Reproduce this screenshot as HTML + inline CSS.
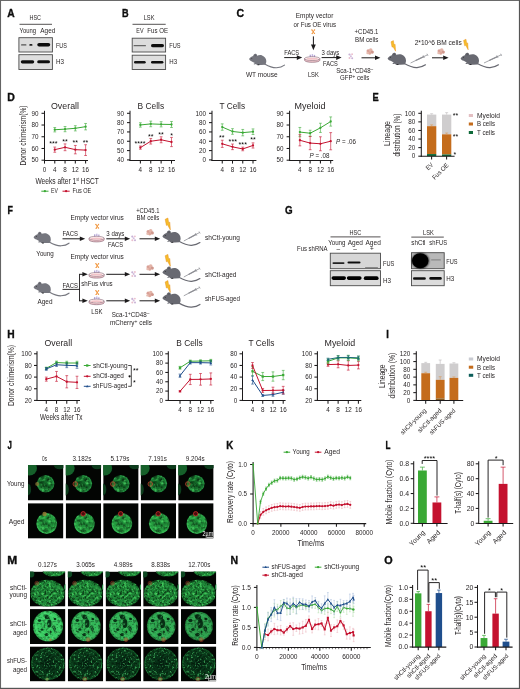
<!DOCTYPE html>
<html lang="en"><head><meta charset="utf-8"><title>Figure</title>
<style>
html,body{margin:0;padding:0;background:#fff;}
body{width:520px;height:689px;overflow:hidden;}
svg.fig{display:block;font-family:"Liberation Sans",sans-serif;}
</style></head><body>
<svg class="fig" width="520" height="689" viewBox="0 0 520 689">
<defs>
<filter id="bl" x="-20%" y="-50%" width="140%" height="200%"><feGaussianBlur stdDeviation="0.55"/></filter>
<filter id="bl2" x="-20%" y="-50%" width="140%" height="200%"><feGaussianBlur stdDeviation="0.9"/></filter>
<filter id="txA" x="-5%" y="-5%" width="110%" height="110%" color-interpolation-filters="sRGB">
<feTurbulence type="fractalNoise" baseFrequency="0.3" numOctaves="2" seed="4" result="n"/>
<feColorMatrix in="n" type="matrix" values="0 0 0 0 0.01  0 0 0 0 0.07  0 0 0 0 0.02  1.7 0 0 0 -0.72" result="d"/>
<feColorMatrix in="n" type="matrix" values="0 0 0 0 0.3  0 0 0 0 0.85  0 0 0 0 0.4  0 2 0 0 -1" result="l"/>
<feComposite in="d" in2="SourceGraphic" operator="atop" result="c1"/>
<feComposite in="l" in2="c1" operator="atop" result="c2"/>
<feGaussianBlur in="c2" stdDeviation="0.7"/>
</filter>
<filter id="txB" x="-5%" y="-5%" width="110%" height="110%" color-interpolation-filters="sRGB">
<feTurbulence type="fractalNoise" baseFrequency="0.42" numOctaves="2" seed="11" result="n"/>
<feColorMatrix in="n" type="matrix" values="0 0 0 0 0.01  0 0 0 0 0.07  0 0 0 0 0.02  2 0 0 0 -0.88" result="d"/>
<feColorMatrix in="n" type="matrix" values="0 0 0 0 0.3  0 0 0 0 0.85  0 0 0 0 0.4  0 2.6 0 0 -1.25" result="l"/>
<feComposite in="d" in2="SourceGraphic" operator="atop" result="c1"/>
<feComposite in="l" in2="c1" operator="atop" result="c2"/>
<feGaussianBlur in="c2" stdDeviation="0.4"/>
</filter>
<filter id="txC" x="-5%" y="-5%" width="110%" height="110%" color-interpolation-filters="sRGB">
<feTurbulence type="fractalNoise" baseFrequency="0.36" numOctaves="2" seed="23" result="n"/>
<feColorMatrix in="n" type="matrix" values="0 0 0 0 0.01  0 0 0 0 0.07  0 0 0 0 0.02  2 0 0 0 -1" result="d"/>
<feColorMatrix in="n" type="matrix" values="0 0 0 0 0.35  0 0 0 0 0.9  0 0 0 0 0.5  0 2 0 0 -1.05" result="l"/>
<feComposite in="d" in2="SourceGraphic" operator="atop" result="c1"/>
<feComposite in="l" in2="c1" operator="atop" result="c2"/>
<feGaussianBlur in="c2" stdDeviation="0.45"/>
</filter>
<filter id="txD" x="-5%" y="-5%" width="110%" height="110%" color-interpolation-filters="sRGB">
<feTurbulence type="fractalNoise" baseFrequency="0.48" numOctaves="2" seed="7" result="n"/>
<feColorMatrix in="n" type="matrix" values="0 0 0 0 0.01  0 0 0 0 0.07  0 0 0 0 0.02  2 0 0 0 -0.8" result="d"/>
<feColorMatrix in="n" type="matrix" values="0 0 0 0 0.22  0 0 0 0 0.62  0 0 0 0 0.33  0 4.2 0 0 -2.4" result="l"/>
<feComposite in="d" in2="SourceGraphic" operator="atop" result="c1"/>
<feComposite in="l" in2="c1" operator="atop" result="c2"/>
<feGaussianBlur in="c2" stdDeviation="0.35"/>
</filter>
<filter id="sb" x="-30%" y="-30%" width="160%" height="160%"><feGaussianBlur stdDeviation="0.5"/></filter>
<radialGradient id="gY"><stop offset="0" stop-color="#126426"/><stop offset="0.7" stop-color="#156e2b"/><stop offset="0.92" stop-color="#229040"/><stop offset="1" stop-color="#0f5020"/></radialGradient>
<radialGradient id="gA"><stop offset="0" stop-color="#1c8635"/><stop offset="0.8" stop-color="#25a040"/><stop offset="0.94" stop-color="#38bc58"/><stop offset="1" stop-color="#18702c"/></radialGradient>
<radialGradient id="gM1"><stop offset="0" stop-color="#197c30"/><stop offset="0.85" stop-color="#1e8838"/><stop offset="1" stop-color="#125c24"/></radialGradient>
<radialGradient id="gM2"><stop offset="0" stop-color="#30bc55"/><stop offset="0.85" stop-color="#3cd066"/><stop offset="1" stop-color="#289c46"/></radialGradient>
<radialGradient id="gM3"><stop offset="0" stop-color="#031c0f"/><stop offset="0.3" stop-color="#073218"/><stop offset="0.88" stop-color="#0b441e"/><stop offset="0.96" stop-color="#136029"/><stop offset="1" stop-color="#072c13"/></radialGradient>
</defs>
<rect x="0" y="0" width="520" height="689" fill="#ffffff"/>
<text x="7.30" y="17.20" font-size="11" font-weight="bold" fill="#0d0d0d" stroke="#0d0d0d" stroke-width="0.35" textLength="7.40" lengthAdjust="spacingAndGlyphs">A</text>
<text x="29.50" y="20.20" font-size="6.5" fill="#2a2627" textLength="11.50" lengthAdjust="spacingAndGlyphs">HSC</text>
<line x1="19.50" y1="24.30" x2="52.00" y2="24.30" stroke="#2a2627" stroke-width="0.8" />
<text x="19.50" y="33.00" font-size="6.5" fill="#2a2627" textLength="16.50" lengthAdjust="spacingAndGlyphs">Young</text>
<text x="40.30" y="33.00" font-size="6.5" fill="#2a2627" textLength="15.00" lengthAdjust="spacingAndGlyphs">Aged</text>
<rect x="18.90" y="37.70" width="33.50" height="14.30" fill="#dcdcdc" stroke="#4a4a4a" stroke-width="0.9" />
<rect x="21.00" y="44.30" width="5.50" height="1.30" rx="0.65" fill="#555" filter="url(#bl)"/>
<rect x="29.30" y="44.00" width="3.20" height="1.80" rx="0.90" fill="#222" filter="url(#bl)"/>
<rect x="37.30" y="43.00" width="12.90" height="3.50" rx="1.75" fill="#0a0a0a" filter="url(#bl)"/>
<rect x="18.90" y="54.70" width="33.50" height="14.80" fill="#dedede" stroke="#4a4a4a" stroke-width="0.9" />
<rect x="20.80" y="60.20" width="13.40" height="3.20" rx="1.60" fill="#0a0a0a" filter="url(#bl)"/>
<rect x="37.20" y="60.30" width="12.80" height="3.00" rx="1.50" fill="#0d0d0d" filter="url(#bl)"/>
<text x="56.00" y="48.00" font-size="6.5" fill="#2a2627" textLength="11.00" lengthAdjust="spacingAndGlyphs">FUS</text>
<text x="56.00" y="63.80" font-size="6.5" fill="#2a2627" textLength="8.00" lengthAdjust="spacingAndGlyphs">H3</text>
<text x="122.00" y="17.20" font-size="11" font-weight="bold" fill="#0d0d0d" stroke="#0d0d0d" stroke-width="0.35" textLength="6.60" lengthAdjust="spacingAndGlyphs">B</text>
<text x="143.70" y="20.20" font-size="6.5" fill="#2a2627" textLength="10.80" lengthAdjust="spacingAndGlyphs">LSK</text>
<line x1="132.50" y1="24.30" x2="165.70" y2="24.30" stroke="#2a2627" stroke-width="0.8" />
<text x="136.30" y="33.00" font-size="6.5" fill="#2a2627" textLength="7.20" lengthAdjust="spacingAndGlyphs">EV</text>
<text x="147.30" y="33.00" font-size="6.5" fill="#2a2627" textLength="20.70" lengthAdjust="spacingAndGlyphs">Fus OE</text>
<rect x="132.20" y="38.20" width="33.40" height="13.80" fill="#dcdcdc" stroke="#4a4a4a" stroke-width="0.9" />
<rect x="133.50" y="45.10" width="12.50" height="1.20" rx="0.60" fill="#666" filter="url(#bl)"/>
<rect x="151.00" y="44.00" width="13.00" height="3.20" rx="1.60" fill="#0a0a0a" filter="url(#bl)"/>
<rect x="132.20" y="55.20" width="33.40" height="14.30" fill="#dedede" stroke="#4a4a4a" stroke-width="0.9" />
<rect x="134.00" y="61.00" width="11.70" height="2.40" rx="1.20" fill="#151515" filter="url(#bl)"/>
<rect x="151.00" y="60.90" width="12.40" height="2.60" rx="1.30" fill="#0d0d0d" filter="url(#bl)"/>
<text x="169.30" y="48.00" font-size="6.5" fill="#2a2627" textLength="11.30" lengthAdjust="spacingAndGlyphs">FUS</text>
<text x="169.30" y="63.80" font-size="6.5" fill="#2a2627" textLength="7.80" lengthAdjust="spacingAndGlyphs">H3</text>
<text x="236.40" y="16.90" font-size="11" font-weight="bold" fill="#0d0d0d" stroke="#0d0d0d" stroke-width="0.35" textLength="7.60" lengthAdjust="spacingAndGlyphs">C</text>
<text x="295.80" y="18.40" font-size="6.5" fill="#2a2627" textLength="37.50" lengthAdjust="spacingAndGlyphs">Empty vector</text>
<text x="293.50" y="26.90" font-size="6.5" fill="#2a2627" textLength="42.50" lengthAdjust="spacingAndGlyphs">or Fus OE virus</text>
<path d="M312.10,30.10l2.2,3.2M314.30,30.10l-2.0,3.4" fill="none" stroke="#f29a45" stroke-width="1" stroke-linecap="round"/>
<circle cx="311.90" cy="29.90" r="0.7" fill="#f29a45"/>
<circle cx="314.50" cy="29.90" r="0.7" fill="#f29a45"/>
<circle cx="314.40" cy="33.40" r="0.7" fill="#f29a45"/>
<circle cx="312.20" cy="33.60" r="0.7" fill="#f29a45"/>
<circle cx="313.30" cy="31.70" r="0.7" fill="#f29a45"/>
<line x1="313.40" y1="36.40" x2="313.40" y2="45.20" stroke="#1c1a1b" stroke-width="1" />
<path d="M313.40,50.20L311.00,44.60L315.80,44.60Z" fill="#1c1a1b" />
<g transform="translate(249.10,53.50) scale(1)">
<path d="M15.6,10.4C19.5,12.6 23.5,14.4 27.5,14.2C30.8,14.0 33.5,13.0 35.4,11.6" fill="none" stroke="#75767e" stroke-width="1.15" stroke-linecap="round"/>
<path d="M0,5.6C0.8,4.4 2.2,3.2 4,2.6C4.3,1 5.4,0 6.6,0.3C7.6,0.6 8,1.4 8,2.2C9.5,1.6 11.5,1.4 13,1.9C15.6,2.8 17.3,5.2 17.2,7.8C17.1,9.6 16.6,10.6 15.8,11.3L12,11.5L8.6,11.5C8,11.5 7.2,11.2 7,10.6L5.2,10.9C4.4,10.9 4.4,10.2 5,10L5.9,9.6C4.6,9 3.6,8.3 2.8,7.9C1.6,7.5 0.3,6.8 0,5.6Z" fill="#75767e" />
<circle cx="6.3" cy="1.9" r="1.0" fill="#00000022"/>
<circle cx="2.7" cy="4.9" r="0.45" fill="#1a1a1a"/>
<ellipse cx="9.3" cy="11.3" rx="1.1" ry="0.5" fill="#2a2a2e"/>
</g>
<text x="284.20" y="55.30" font-size="6.5" fill="#2a2627" textLength="15.00" lengthAdjust="spacingAndGlyphs">FACS</text>
<line x1="284.20" y1="57.60" x2="297.40" y2="57.60" stroke="#1c1a1b" stroke-width="1" />
<path d="M302.20,57.60L296.80,55.30L296.80,59.90Z" fill="#1c1a1b" />
<rect x="309.60" y="54.70" width="1.40" height="2.90" fill="#b3a8d6" />
<rect x="311.70" y="54.10" width="1.40" height="3.30" fill="#c3b6e0" />
<rect x="313.80" y="54.90" width="1.30" height="2.70" fill="#b3a8d6" />
<path d="M304.60,58.60v1.7a7.60,2.0 0 0 0 15.20,0v-1.7Z" fill="#f1c9ce" stroke="#7d5868" stroke-width="0.6"/>
<ellipse cx="312.20" cy="58.60" rx="7.60" ry="1.9" fill="#fff7f6" stroke="#7d5868" stroke-width="0.55"/>
<ellipse cx="312.20" cy="58.80" rx="5.80" ry="1.0" fill="#f3c3c8"/>
<text x="321.60" y="55.30" font-size="6.5" fill="#2a2627" textLength="17.60" lengthAdjust="spacingAndGlyphs">3 days</text>
<line x1="321.60" y1="57.60" x2="336.80" y2="57.60" stroke="#1c1a1b" stroke-width="1" />
<path d="M341.60,57.60L336.20,55.30L336.20,59.90Z" fill="#1c1a1b" />
<text x="323.00" y="65.90" font-size="6.5" fill="#2a2627" textLength="14.70" lengthAdjust="spacingAndGlyphs">FACS</text>
<text x="245.90" y="77.40" font-size="6.5" fill="#2a2627" textLength="31.70" lengthAdjust="spacingAndGlyphs">WT mouse</text>
<text x="307.90" y="77.40" font-size="6.5" fill="#2a2627" textLength="10.90" lengthAdjust="spacingAndGlyphs">LSK</text>
<text x="336.20" y="73.10" font-size="6.5" fill="#2a2627" textLength="37.00" lengthAdjust="spacingAndGlyphs">Sca-1<tspan font-size="5" dy="-2.4">+</tspan><tspan dy="2.4">CD48</tspan><tspan font-size="5" dy="-2.4">–</tspan></text>
<text x="340.00" y="80.40" font-size="6.5" fill="#2a2627" textLength="29.20" lengthAdjust="spacingAndGlyphs">GFP<tspan font-size="5" dy="-2.4">+</tspan><tspan dy="2.4"> cells</tspan></text>
<circle cx="349.50" cy="54.50" r="1.1" fill="#c9b2d6"/>
<circle cx="352.10" cy="54.20" r="0.9" fill="#ebbccb"/>
<circle cx="350.90" cy="56.20" r="1" fill="#d3bcdc"/>
<circle cx="349.50" cy="58.10" r="1" fill="#e9bfcd"/>
<circle cx="352.20" cy="58.20" r="1" fill="#c9b2d6"/>
<text x="354.60" y="34.40" font-size="6.5" fill="#2a2627" textLength="23.80" lengthAdjust="spacingAndGlyphs">+CD45.1</text>
<text x="355.00" y="42.30" font-size="6.5" fill="#2a2627" textLength="23.40" lengthAdjust="spacingAndGlyphs">BM cells</text>
<circle cx="368.20" cy="50.90" r="1.7" fill="#d9a096"/>
<circle cx="370.70" cy="50.10" r="1.8" fill="#e3b4a8"/>
<circle cx="372.30" cy="52.10" r="1.6" fill="#cf978c"/>
<circle cx="369.70" cy="53.00" r="1.8" fill="#dda79b"/>
<circle cx="367.50" cy="53.00" r="1.2" fill="#e6bcb0"/>
<line x1="361.50" y1="57.80" x2="375.60" y2="57.80" stroke="#1c1a1b" stroke-width="1" />
<path d="M380.40,57.80L375.00,55.50L375.00,60.10Z" fill="#1c1a1b" />
<g transform="translate(391.00,40.60) scale(0.82,1)">
<path d="M0,1.2L2.9,0L3.7,4.1L5,3.7L5.6,10.6L2.5,6.1L1.3,6.6Z" fill="#f6bd2a" stroke="#e8901f" stroke-width="0.5" stroke-linejoin="round"/>
</g>
<g transform="translate(387.60,52.40) scale(1.07)">
<path d="M15.6,10.4C19.5,12.6 23.5,14.4 27.5,14.2C30.8,14.0 33.5,13.0 35.4,11.6" fill="none" stroke="#686971" stroke-width="1.15" stroke-linecap="round"/>
<path d="M0,5.6C0.8,4.4 2.2,3.2 4,2.6C4.3,1 5.4,0 6.6,0.3C7.6,0.6 8,1.4 8,2.2C9.5,1.6 11.5,1.4 13,1.9C15.6,2.8 17.3,5.2 17.2,7.8C17.1,9.6 16.6,10.6 15.8,11.3L12,11.5L8.6,11.5C8,11.5 7.2,11.2 7,10.6L5.2,10.9C4.4,10.9 4.4,10.2 5,10L5.9,9.6C4.6,9 3.6,8.3 2.8,7.9C1.6,7.5 0.3,6.8 0,5.6Z" fill="#686971" />
<circle cx="6.3" cy="1.9" r="1.0" fill="#00000022"/>
<circle cx="2.7" cy="4.9" r="0.45" fill="#1a1a1a"/>
<ellipse cx="9.3" cy="11.3" rx="1.1" ry="0.5" fill="#2a2a2e"/>
</g>
<line x1="410.60" y1="63.00" x2="427.50" y2="54.80" stroke="#8e8f95" stroke-width="0.8" />
<line x1="423.13" y1="55.25" x2="424.44" y2="57.95" stroke="#8e8f95" stroke-width="0.7" />
<line x1="426.98" y1="53.72" x2="428.02" y2="55.88" stroke="#8e8f95" stroke-width="0.7" />
<line x1="415.67" y1="60.54" x2="423.78" y2="56.60" stroke="#8e8f95" stroke-width="1.25" />
<text x="414.70" y="44.60" font-size="6.5" fill="#2a2627" textLength="47.00" lengthAdjust="spacingAndGlyphs">2*10^6 BM cells</text>
<circle cx="439.20" cy="50.90" r="1.7" fill="#d9a096"/>
<circle cx="441.70" cy="50.10" r="1.8" fill="#e3b4a8"/>
<circle cx="443.30" cy="52.10" r="1.6" fill="#cf978c"/>
<circle cx="440.70" cy="53.00" r="1.8" fill="#dda79b"/>
<circle cx="438.50" cy="53.00" r="1.2" fill="#e6bcb0"/>
<line x1="432.00" y1="57.80" x2="443.80" y2="57.80" stroke="#1c1a1b" stroke-width="1" />
<path d="M448.60,57.80L443.20,55.50L443.20,60.10Z" fill="#1c1a1b" />
<g transform="translate(463.60,39.20) scale(0.82,1)">
<path d="M0,1.2L2.9,0L3.7,4.1L5,3.7L5.6,10.6L2.5,6.1L1.3,6.6Z" fill="#f6bd2a" stroke="#e8901f" stroke-width="0.5" stroke-linejoin="round"/>
</g>
<g transform="translate(460.60,52.40) scale(1.07)">
<path d="M15.6,10.4C19.5,12.6 23.5,14.4 27.5,14.2C30.8,14.0 33.5,13.0 35.4,11.6" fill="none" stroke="#686971" stroke-width="1.15" stroke-linecap="round"/>
<path d="M0,5.6C0.8,4.4 2.2,3.2 4,2.6C4.3,1 5.4,0 6.6,0.3C7.6,0.6 8,1.4 8,2.2C9.5,1.6 11.5,1.4 13,1.9C15.6,2.8 17.3,5.2 17.2,7.8C17.1,9.6 16.6,10.6 15.8,11.3L12,11.5L8.6,11.5C8,11.5 7.2,11.2 7,10.6L5.2,10.9C4.4,10.9 4.4,10.2 5,10L5.9,9.6C4.6,9 3.6,8.3 2.8,7.9C1.6,7.5 0.3,6.8 0,5.6Z" fill="#686971" />
<circle cx="6.3" cy="1.9" r="1.0" fill="#00000022"/>
<circle cx="2.7" cy="4.9" r="0.45" fill="#1a1a1a"/>
<ellipse cx="9.3" cy="11.3" rx="1.1" ry="0.5" fill="#2a2a2e"/>
</g>
<line x1="484.00" y1="63.00" x2="501.20" y2="54.80" stroke="#8e8f95" stroke-width="0.8" />
<line x1="496.77" y1="55.25" x2="498.06" y2="57.96" stroke="#8e8f95" stroke-width="0.7" />
<line x1="500.68" y1="53.72" x2="501.72" y2="55.88" stroke="#8e8f95" stroke-width="0.7" />
<line x1="489.16" y1="60.54" x2="497.42" y2="56.60" stroke="#8e8f95" stroke-width="1.25" />
<text x="7.30" y="100.60" font-size="11" font-weight="bold" fill="#0d0d0d" stroke="#0d0d0d" stroke-width="0.35" textLength="7.60" lengthAdjust="spacingAndGlyphs">D</text>
<text x="51.00" y="108.60" font-size="8.6" fill="#2a2627" textLength="28.00" lengthAdjust="spacingAndGlyphs">Overall</text>
<line x1="44.50" y1="110.80" x2="44.50" y2="160.93" stroke="#1c1a1b" stroke-width="1.05" />
<line x1="43.98" y1="160.40" x2="88.00" y2="160.40" stroke="#1c1a1b" stroke-width="1.05" />
<line x1="41.50" y1="160.20" x2="44.50" y2="160.20" stroke="#1c1a1b" stroke-width="1.05" />
<text x="38.50" y="162.47" font-size="6.3" text-anchor="end" fill="#2a2627">50</text>
<line x1="41.50" y1="148.47" x2="44.50" y2="148.47" stroke="#1c1a1b" stroke-width="1.05" />
<text x="38.50" y="150.74" font-size="6.3" text-anchor="end" fill="#2a2627">60</text>
<line x1="41.50" y1="136.75" x2="44.50" y2="136.75" stroke="#1c1a1b" stroke-width="1.05" />
<text x="38.50" y="139.02" font-size="6.3" text-anchor="end" fill="#2a2627">70</text>
<line x1="41.50" y1="125.02" x2="44.50" y2="125.02" stroke="#1c1a1b" stroke-width="1.05" />
<text x="38.50" y="127.29" font-size="6.3" text-anchor="end" fill="#2a2627">80</text>
<line x1="41.50" y1="113.30" x2="44.50" y2="113.30" stroke="#1c1a1b" stroke-width="1.05" />
<text x="38.50" y="115.57" font-size="6.3" text-anchor="end" fill="#2a2627">90</text>
<line x1="44.50" y1="160.40" x2="44.50" y2="163.60" stroke="#1c1a1b" stroke-width="1.05" />
<text x="44.50" y="171.60" font-size="6.3" text-anchor="middle" fill="#2a2627">0</text>
<line x1="54.77" y1="160.40" x2="54.77" y2="163.60" stroke="#1c1a1b" stroke-width="1.05" />
<text x="54.77" y="171.60" font-size="6.3" text-anchor="middle" fill="#2a2627">4</text>
<line x1="65.05" y1="160.40" x2="65.05" y2="163.60" stroke="#1c1a1b" stroke-width="1.05" />
<text x="65.05" y="171.60" font-size="6.3" text-anchor="middle" fill="#2a2627">8</text>
<line x1="75.32" y1="160.40" x2="75.32" y2="163.60" stroke="#1c1a1b" stroke-width="1.05" />
<text x="75.32" y="171.60" font-size="6.3" text-anchor="middle" fill="#2a2627">12</text>
<line x1="85.60" y1="160.40" x2="85.60" y2="163.60" stroke="#1c1a1b" stroke-width="1.05" />
<text x="85.60" y="171.60" font-size="6.3" text-anchor="middle" fill="#2a2627">16</text>
<path d="M54.77,127.52V131.91M53.38,127.52H56.17M53.38,131.91H56.17M65.05,126.53V131.73M63.65,126.53H66.45M63.65,131.73H66.45M75.32,125.71V130.91M73.92,125.71H76.72M73.92,130.91H76.72M85.60,123.47V129.87M84.20,123.47H87.00M84.20,129.87H87.00" fill="none" stroke="#3aa935" stroke-width="0.6" />
<polyline points="54.77,129.72 65.05,129.13 75.32,128.31 85.60,126.67" fill="none" stroke="#3aa935" stroke-width="1" stroke-linejoin="round"/>
<circle cx="54.77" cy="129.72" r="1.15" fill="#3aa935"/>
<circle cx="65.05" cy="129.13" r="1.15" fill="#3aa935"/>
<circle cx="75.32" cy="128.31" r="1.15" fill="#3aa935"/>
<circle cx="85.60" cy="126.67" r="1.15" fill="#3aa935"/>
<path d="M54.77,147.05V152.25M53.38,147.05H56.17M53.38,152.25H56.17M65.05,143.90V150.70M63.65,143.90H66.45M63.65,150.70H66.45M75.32,145.45V153.85M73.92,145.45H76.72M73.92,153.85H76.72M85.60,144.72V155.52M84.20,144.72H87.00M84.20,155.52H87.00" fill="none" stroke="#c4122f" stroke-width="0.6" />
<polyline points="54.77,149.65 65.05,147.30 75.32,149.65 85.60,150.12" fill="none" stroke="#c4122f" stroke-width="1" stroke-linejoin="round"/>
<circle cx="54.77" cy="149.65" r="1.15" fill="#c4122f"/>
<circle cx="65.05" cy="147.30" r="1.15" fill="#c4122f"/>
<circle cx="75.32" cy="149.65" r="1.15" fill="#c4122f"/>
<circle cx="85.60" cy="150.12" r="1.15" fill="#c4122f"/>
<text x="53.48" y="146.30" font-size="7.2" text-anchor="middle" fill="#000" textLength="8.36" lengthAdjust="spacingAndGlyphs">***</text>
<text x="65.05" y="144.00" font-size="7.2" text-anchor="middle" fill="#000" textLength="5.50" lengthAdjust="spacingAndGlyphs">**</text>
<text x="75.32" y="145.30" font-size="7.2" text-anchor="middle" fill="#000" textLength="5.50" lengthAdjust="spacingAndGlyphs">**</text>
<text x="85.60" y="144.70" font-size="7.2" text-anchor="middle" fill="#000" textLength="5.50" lengthAdjust="spacingAndGlyphs">**</text>
<text transform="translate(26.30,135.50) rotate(-90)" font-size="8.8" text-anchor="middle" fill="#2a2627" textLength="60.00" lengthAdjust="spacingAndGlyphs">Donor chimerism(%)</text>
<text x="35.40" y="183.60" font-size="9.2" fill="#2a2627" textLength="63.50" lengthAdjust="spacingAndGlyphs">Weeks after 1<tspan font-size="5" dy="-3">st</tspan><tspan dy="3"> HSCT</tspan></text>
<line x1="41.30" y1="191.20" x2="48.50" y2="191.20" stroke="#3aa935" stroke-width="1" />
<circle cx="44.90" cy="191.20" r="1.15" fill="#3aa935"/>
<text x="51.10" y="193.34" font-size="6.3" fill="#2a2627" textLength="6.80" lengthAdjust="spacingAndGlyphs">EV</text>
<line x1="62.50" y1="191.20" x2="69.70" y2="191.20" stroke="#c4122f" stroke-width="1" />
<circle cx="66.10" cy="191.20" r="1.15" fill="#c4122f"/>
<text x="72.50" y="193.34" font-size="6.3" fill="#2a2627" textLength="18.80" lengthAdjust="spacingAndGlyphs">Fus OE</text>
<text x="137.50" y="108.60" font-size="8.6" fill="#2a2627" textLength="26.60" lengthAdjust="spacingAndGlyphs">B Cells</text>
<line x1="130.00" y1="110.80" x2="130.00" y2="160.93" stroke="#1c1a1b" stroke-width="1.05" />
<line x1="129.47" y1="160.40" x2="175.00" y2="160.40" stroke="#1c1a1b" stroke-width="1.05" />
<line x1="127.00" y1="159.90" x2="130.00" y2="159.90" stroke="#1c1a1b" stroke-width="1.05" />
<text x="124.00" y="162.17" font-size="6.3" text-anchor="end" fill="#2a2627">40</text>
<line x1="127.00" y1="150.58" x2="130.00" y2="150.58" stroke="#1c1a1b" stroke-width="1.05" />
<text x="124.00" y="152.85" font-size="6.3" text-anchor="end" fill="#2a2627">50</text>
<line x1="127.00" y1="141.26" x2="130.00" y2="141.26" stroke="#1c1a1b" stroke-width="1.05" />
<text x="124.00" y="143.53" font-size="6.3" text-anchor="end" fill="#2a2627">60</text>
<line x1="127.00" y1="131.94" x2="130.00" y2="131.94" stroke="#1c1a1b" stroke-width="1.05" />
<text x="124.00" y="134.21" font-size="6.3" text-anchor="end" fill="#2a2627">70</text>
<line x1="127.00" y1="122.62" x2="130.00" y2="122.62" stroke="#1c1a1b" stroke-width="1.05" />
<text x="124.00" y="124.89" font-size="6.3" text-anchor="end" fill="#2a2627">80</text>
<line x1="127.00" y1="113.30" x2="130.00" y2="113.30" stroke="#1c1a1b" stroke-width="1.05" />
<text x="124.00" y="115.57" font-size="6.3" text-anchor="end" fill="#2a2627">90</text>
<line x1="140.38" y1="160.40" x2="140.38" y2="163.60" stroke="#1c1a1b" stroke-width="1.05" />
<text x="140.38" y="171.60" font-size="6.3" text-anchor="middle" fill="#2a2627">4</text>
<line x1="150.75" y1="160.40" x2="150.75" y2="163.60" stroke="#1c1a1b" stroke-width="1.05" />
<text x="150.75" y="171.60" font-size="6.3" text-anchor="middle" fill="#2a2627">8</text>
<line x1="161.12" y1="160.40" x2="161.12" y2="163.60" stroke="#1c1a1b" stroke-width="1.05" />
<text x="161.12" y="171.60" font-size="6.3" text-anchor="middle" fill="#2a2627">12</text>
<line x1="171.50" y1="160.40" x2="171.50" y2="163.60" stroke="#1c1a1b" stroke-width="1.05" />
<text x="171.50" y="171.60" font-size="6.3" text-anchor="middle" fill="#2a2627">16</text>
<path d="M140.38,122.75V127.15M138.97,122.75H141.78M138.97,127.15H141.78M150.75,121.12V126.72M149.35,121.12H152.15M149.35,126.72H152.15M161.12,121.70V126.90M159.72,121.70H162.53M159.72,126.90H162.53M171.50,121.48V127.48M170.10,121.48H172.90M170.10,127.48H172.90" fill="none" stroke="#3aa935" stroke-width="0.6" />
<polyline points="140.38,124.95 150.75,123.92 161.12,124.30 171.50,124.48" fill="none" stroke="#3aa935" stroke-width="1" stroke-linejoin="round"/>
<circle cx="140.38" cy="124.95" r="1.15" fill="#3aa935"/>
<circle cx="150.75" cy="123.92" r="1.15" fill="#3aa935"/>
<circle cx="161.12" cy="124.30" r="1.15" fill="#3aa935"/>
<circle cx="171.50" cy="124.48" r="1.15" fill="#3aa935"/>
<path d="M140.38,146.00V149.20M138.97,146.00H141.78M138.97,149.20H141.78M150.75,138.46V144.06M149.35,138.46H152.15M149.35,144.06H152.15M161.12,136.77V142.77M159.72,136.77H162.53M159.72,142.77H162.53M171.50,137.41V146.61M170.10,137.41H172.90M170.10,146.61H172.90" fill="none" stroke="#c4122f" stroke-width="0.6" />
<polyline points="140.38,147.60 150.75,141.26 161.12,139.77 171.50,142.01" fill="none" stroke="#c4122f" stroke-width="1" stroke-linejoin="round"/>
<circle cx="140.38" cy="147.60" r="1.15" fill="#c4122f"/>
<circle cx="150.75" cy="141.26" r="1.15" fill="#c4122f"/>
<circle cx="161.12" cy="139.77" r="1.15" fill="#c4122f"/>
<circle cx="171.50" cy="142.01" r="1.15" fill="#c4122f"/>
<text x="140.07" y="145.90" font-size="7.2" text-anchor="middle" fill="#000" textLength="11.00" lengthAdjust="spacingAndGlyphs">****</text>
<text x="150.75" y="138.50" font-size="7.2" text-anchor="middle" fill="#000" textLength="5.50" lengthAdjust="spacingAndGlyphs">**</text>
<text x="161.12" y="136.70" font-size="7.2" text-anchor="middle" fill="#000" textLength="5.50" lengthAdjust="spacingAndGlyphs">**</text>
<text x="171.50" y="137.70" font-size="7.2" text-anchor="middle" fill="#000" textLength="2.75" lengthAdjust="spacingAndGlyphs">*</text>
<text x="219.50" y="108.60" font-size="8.6" fill="#2a2627" textLength="25.60" lengthAdjust="spacingAndGlyphs">T Cells</text>
<line x1="212.00" y1="110.80" x2="212.00" y2="160.93" stroke="#1c1a1b" stroke-width="1.05" />
<line x1="211.47" y1="160.40" x2="256.40" y2="160.40" stroke="#1c1a1b" stroke-width="1.05" />
<line x1="209.00" y1="159.90" x2="212.00" y2="159.90" stroke="#1c1a1b" stroke-width="1.05" />
<text x="206.00" y="162.17" font-size="6.3" text-anchor="end" fill="#2a2627">0</text>
<line x1="209.00" y1="150.58" x2="212.00" y2="150.58" stroke="#1c1a1b" stroke-width="1.05" />
<text x="206.00" y="152.85" font-size="6.3" text-anchor="end" fill="#2a2627">20</text>
<line x1="209.00" y1="141.26" x2="212.00" y2="141.26" stroke="#1c1a1b" stroke-width="1.05" />
<text x="206.00" y="143.53" font-size="6.3" text-anchor="end" fill="#2a2627">40</text>
<line x1="209.00" y1="131.94" x2="212.00" y2="131.94" stroke="#1c1a1b" stroke-width="1.05" />
<text x="206.00" y="134.21" font-size="6.3" text-anchor="end" fill="#2a2627">60</text>
<line x1="209.00" y1="122.62" x2="212.00" y2="122.62" stroke="#1c1a1b" stroke-width="1.05" />
<text x="206.00" y="124.89" font-size="6.3" text-anchor="end" fill="#2a2627">80</text>
<line x1="209.00" y1="113.30" x2="212.00" y2="113.30" stroke="#1c1a1b" stroke-width="1.05" />
<text x="206.00" y="115.57" font-size="6.3" text-anchor="end" fill="#2a2627">100</text>
<line x1="222.25" y1="160.40" x2="222.25" y2="163.60" stroke="#1c1a1b" stroke-width="1.05" />
<text x="222.25" y="171.60" font-size="6.3" text-anchor="middle" fill="#2a2627">4</text>
<line x1="232.50" y1="160.40" x2="232.50" y2="163.60" stroke="#1c1a1b" stroke-width="1.05" />
<text x="232.50" y="171.60" font-size="6.3" text-anchor="middle" fill="#2a2627">8</text>
<line x1="242.75" y1="160.40" x2="242.75" y2="163.60" stroke="#1c1a1b" stroke-width="1.05" />
<text x="242.75" y="171.60" font-size="6.3" text-anchor="middle" fill="#2a2627">12</text>
<line x1="253.00" y1="160.40" x2="253.00" y2="163.60" stroke="#1c1a1b" stroke-width="1.05" />
<text x="253.00" y="171.60" font-size="6.3" text-anchor="middle" fill="#2a2627">16</text>
<path d="M222.25,123.85V130.25M220.85,123.85H223.65M220.85,130.25H223.65M232.50,128.67V134.27M231.10,128.67H233.90M231.10,134.27H233.90M242.75,129.44V135.84M241.35,129.44H244.15M241.35,135.84H244.15M253.00,128.91V134.51M251.60,128.91H254.40M251.60,134.51H254.40" fill="none" stroke="#3aa935" stroke-width="0.6" />
<polyline points="222.25,127.05 232.50,131.47 242.75,132.64 253.00,131.71" fill="none" stroke="#3aa935" stroke-width="1" stroke-linejoin="round"/>
<circle cx="222.25" cy="127.05" r="1.15" fill="#3aa935"/>
<circle cx="232.50" cy="131.47" r="1.15" fill="#3aa935"/>
<circle cx="242.75" cy="132.64" r="1.15" fill="#3aa935"/>
<circle cx="253.00" cy="131.71" r="1.15" fill="#3aa935"/>
<path d="M222.25,140.22V147.42M220.85,140.22H223.65M220.85,147.42H223.65M232.50,144.05V149.65M231.10,144.05H233.90M231.10,149.65H233.90M242.75,147.15V150.75M241.35,147.15H244.15M241.35,150.75H244.15M253.00,142.85V148.05M251.60,142.85H254.40M251.60,148.05H254.40" fill="none" stroke="#c4122f" stroke-width="0.6" />
<polyline points="222.25,143.82 232.50,146.85 242.75,148.95 253.00,145.45" fill="none" stroke="#c4122f" stroke-width="1" stroke-linejoin="round"/>
<circle cx="222.25" cy="143.82" r="1.15" fill="#c4122f"/>
<circle cx="232.50" cy="146.85" r="1.15" fill="#c4122f"/>
<circle cx="242.75" cy="148.95" r="1.15" fill="#c4122f"/>
<circle cx="253.00" cy="145.45" r="1.15" fill="#c4122f"/>
<text x="221.65" y="140.30" font-size="7.2" text-anchor="middle" fill="#000" textLength="5.50" lengthAdjust="spacingAndGlyphs">**</text>
<text x="232.80" y="144.00" font-size="7.2" text-anchor="middle" fill="#000" textLength="8.36" lengthAdjust="spacingAndGlyphs">***</text>
<text x="242.75" y="147.10" font-size="7.2" text-anchor="middle" fill="#000" textLength="8.36" lengthAdjust="spacingAndGlyphs">***</text>
<text x="253.00" y="142.30" font-size="7.2" text-anchor="middle" fill="#000" textLength="5.50" lengthAdjust="spacingAndGlyphs">**</text>
<text x="294.50" y="108.60" font-size="8.6" fill="#2a2627" textLength="31.00" lengthAdjust="spacingAndGlyphs">Myeloid</text>
<line x1="289.60" y1="110.80" x2="289.60" y2="160.93" stroke="#1c1a1b" stroke-width="1.05" />
<line x1="289.08" y1="160.40" x2="333.20" y2="160.40" stroke="#1c1a1b" stroke-width="1.05" />
<line x1="286.60" y1="160.20" x2="289.60" y2="160.20" stroke="#1c1a1b" stroke-width="1.05" />
<text x="283.60" y="162.47" font-size="6.3" text-anchor="end" fill="#2a2627">50</text>
<line x1="286.60" y1="148.47" x2="289.60" y2="148.47" stroke="#1c1a1b" stroke-width="1.05" />
<text x="283.60" y="150.74" font-size="6.3" text-anchor="end" fill="#2a2627">60</text>
<line x1="286.60" y1="136.75" x2="289.60" y2="136.75" stroke="#1c1a1b" stroke-width="1.05" />
<text x="283.60" y="139.02" font-size="6.3" text-anchor="end" fill="#2a2627">70</text>
<line x1="286.60" y1="125.02" x2="289.60" y2="125.02" stroke="#1c1a1b" stroke-width="1.05" />
<text x="283.60" y="127.29" font-size="6.3" text-anchor="end" fill="#2a2627">80</text>
<line x1="286.60" y1="113.30" x2="289.60" y2="113.30" stroke="#1c1a1b" stroke-width="1.05" />
<text x="283.60" y="115.57" font-size="6.3" text-anchor="end" fill="#2a2627">90</text>
<line x1="299.88" y1="160.40" x2="299.88" y2="163.60" stroke="#1c1a1b" stroke-width="1.05" />
<text x="299.88" y="171.60" font-size="6.3" text-anchor="middle" fill="#2a2627">4</text>
<line x1="310.15" y1="160.40" x2="310.15" y2="163.60" stroke="#1c1a1b" stroke-width="1.05" />
<text x="310.15" y="171.60" font-size="6.3" text-anchor="middle" fill="#2a2627">8</text>
<line x1="320.43" y1="160.40" x2="320.43" y2="163.60" stroke="#1c1a1b" stroke-width="1.05" />
<text x="320.43" y="171.60" font-size="6.3" text-anchor="middle" fill="#2a2627">12</text>
<line x1="330.70" y1="160.40" x2="330.70" y2="163.60" stroke="#1c1a1b" stroke-width="1.05" />
<text x="330.70" y="171.60" font-size="6.3" text-anchor="middle" fill="#2a2627">16</text>
<path d="M299.88,127.46V136.66M298.48,127.46H301.27M298.48,136.66H301.27M310.15,130.23V136.23M308.75,130.23H311.55M308.75,136.23H311.55M320.43,123.24V132.44M319.03,123.24H321.82M319.03,132.44H321.82M330.70,116.91V126.11M329.30,116.91H332.10M329.30,126.11H332.10" fill="none" stroke="#3aa935" stroke-width="0.6" />
<polyline points="299.88,132.06 310.15,133.23 320.43,127.84 330.70,121.51" fill="none" stroke="#3aa935" stroke-width="1" stroke-linejoin="round"/>
<circle cx="299.88" cy="132.06" r="1.15" fill="#3aa935"/>
<circle cx="310.15" cy="133.23" r="1.15" fill="#3aa935"/>
<circle cx="320.43" cy="127.84" r="1.15" fill="#3aa935"/>
<circle cx="330.70" cy="121.51" r="1.15" fill="#3aa935"/>
<path d="M299.88,134.67V145.87M298.48,134.67H301.27M298.48,145.87H301.27M310.15,136.48V149.68M308.75,136.48H311.55M308.75,149.68H311.55M320.43,136.78V150.78M319.03,136.78H321.82M319.03,150.78H321.82M330.70,132.61V149.81M329.30,132.61H332.10M329.30,149.81H332.10" fill="none" stroke="#c4122f" stroke-width="0.6" />
<polyline points="299.88,140.27 310.15,143.08 320.43,143.78 330.70,141.21" fill="none" stroke="#c4122f" stroke-width="1" stroke-linejoin="round"/>
<circle cx="299.88" cy="140.27" r="1.15" fill="#c4122f"/>
<circle cx="310.15" cy="143.08" r="1.15" fill="#c4122f"/>
<circle cx="320.43" cy="143.78" r="1.15" fill="#c4122f"/>
<circle cx="330.70" cy="141.21" r="1.15" fill="#c4122f"/>
<text x="336.00" y="143.60" font-size="6.3" fill="#2a2627" textLength="20.00" lengthAdjust="spacingAndGlyphs"><tspan font-style="italic">P</tspan> = .06</text>
<text x="309.50" y="158.00" font-size="6.3" fill="#2a2627" textLength="20.00" lengthAdjust="spacingAndGlyphs"><tspan font-style="italic">P</tspan> = .08</text>
<text x="372.50" y="100.60" font-size="11" font-weight="bold" fill="#0d0d0d" stroke="#0d0d0d" stroke-width="0.35" textLength="6.20" lengthAdjust="spacingAndGlyphs">E</text>
<rect x="427.00" y="114.59" width="9.30" height="11.58" fill="#cfcdce" />
<rect x="427.00" y="126.17" width="9.30" height="27.88" fill="#c46c1c" />
<rect x="427.00" y="154.05" width="9.30" height="2.15" fill="#0f6a3a" />
<path d="M431.65,114.59V113.73M430.15,113.73h3" fill="none" stroke="#bdbbbc" stroke-width="0.6" />
<path d="M431.65,126.17V124.88M430.15,124.88h3" fill="none" stroke="#d99a5a" stroke-width="0.6" />
<rect x="442.00" y="114.59" width="9.30" height="19.73" fill="#cfcdce" />
<rect x="442.00" y="134.32" width="9.30" height="20.16" fill="#c46c1c" />
<rect x="442.00" y="154.48" width="9.30" height="1.72" fill="#0f6a3a" />
<path d="M446.65,114.59V112.66M445.15,112.66h3" fill="none" stroke="#bdbbbc" stroke-width="0.6" />
<path d="M446.65,134.32V133.03M445.15,133.03h3" fill="none" stroke="#d99a5a" stroke-width="0.6" />
<line x1="421.30" y1="110.80" x2="421.30" y2="156.83" stroke="#1c1a1b" stroke-width="1.05" />
<line x1="420.78" y1="156.30" x2="454.60" y2="156.30" stroke="#1c1a1b" stroke-width="1.05" />
<line x1="418.30" y1="156.20" x2="421.30" y2="156.20" stroke="#1c1a1b" stroke-width="1.05" />
<text x="415.30" y="158.47" font-size="6.3" text-anchor="end" fill="#2a2627">0</text>
<line x1="418.30" y1="147.62" x2="421.30" y2="147.62" stroke="#1c1a1b" stroke-width="1.05" />
<text x="415.30" y="149.89" font-size="6.3" text-anchor="end" fill="#2a2627">20</text>
<line x1="418.30" y1="139.04" x2="421.30" y2="139.04" stroke="#1c1a1b" stroke-width="1.05" />
<text x="415.30" y="141.31" font-size="6.3" text-anchor="end" fill="#2a2627">40</text>
<line x1="418.30" y1="130.46" x2="421.30" y2="130.46" stroke="#1c1a1b" stroke-width="1.05" />
<text x="415.30" y="132.73" font-size="6.3" text-anchor="end" fill="#2a2627">60</text>
<line x1="418.30" y1="121.88" x2="421.30" y2="121.88" stroke="#1c1a1b" stroke-width="1.05" />
<text x="415.30" y="124.15" font-size="6.3" text-anchor="end" fill="#2a2627">80</text>
<line x1="418.30" y1="113.30" x2="421.30" y2="113.30" stroke="#1c1a1b" stroke-width="1.05" />
<text x="415.30" y="115.57" font-size="6.3" text-anchor="end" fill="#2a2627">100</text>
<line x1="431.60" y1="156.30" x2="431.60" y2="159.50" stroke="#1c1a1b" stroke-width="1.05" />
<line x1="446.60" y1="156.30" x2="446.60" y2="159.50" stroke="#1c1a1b" stroke-width="1.05" />
<text x="455.60" y="118.30" font-size="7.2" text-anchor="middle" fill="#000" textLength="5.50" lengthAdjust="spacingAndGlyphs">**</text>
<text x="455.60" y="139.10" font-size="7.2" text-anchor="middle" fill="#000" textLength="5.50" lengthAdjust="spacingAndGlyphs">**</text>
<text x="454.80" y="156.90" font-size="7.2" text-anchor="middle" fill="#000" textLength="2.75" lengthAdjust="spacingAndGlyphs">*</text>
<rect x="468.80" y="114.00" width="4.20" height="3.00" fill="#e3bfc2" />
<text x="477.00" y="117.90" font-size="6.5" fill="#2a2627" textLength="23.00" lengthAdjust="spacingAndGlyphs">Myeloid</text>
<rect x="468.80" y="122.50" width="4.20" height="3.00" fill="#c46c1c" />
<text x="477.00" y="126.40" font-size="6.5" fill="#2a2627" textLength="18.00" lengthAdjust="spacingAndGlyphs">B cells</text>
<rect x="468.80" y="131.00" width="4.20" height="3.00" fill="#0f6a3a" />
<text x="477.00" y="134.90" font-size="6.5" fill="#2a2627" textLength="18.00" lengthAdjust="spacingAndGlyphs">T cells</text>
<text transform="translate(433.60,165.20) rotate(-45)" font-size="6.3" text-anchor="end" fill="#2a2627" textLength="7.60" lengthAdjust="spacingAndGlyphs">EV</text>
<text transform="translate(449.20,165.60) rotate(-45)" font-size="6.3" text-anchor="end" fill="#2a2627" textLength="20.50" lengthAdjust="spacingAndGlyphs">Fus OE</text>
<text transform="translate(390.00,133.50) rotate(-90)" font-size="8.8" text-anchor="middle" fill="#2a2627" textLength="25.00" lengthAdjust="spacingAndGlyphs">Lineage</text>
<text transform="translate(400.00,135.00) rotate(-90)" font-size="8.8" text-anchor="middle" fill="#2a2627" textLength="43.00" lengthAdjust="spacingAndGlyphs">distribution (%)</text>
<text x="7.40" y="213.80" font-size="11" font-weight="bold" fill="#0d0d0d" stroke="#0d0d0d" stroke-width="0.35" textLength="5.40" lengthAdjust="spacingAndGlyphs">F</text>
<text x="70.50" y="220.40" font-size="6.5" fill="#2a2627" textLength="53.30" lengthAdjust="spacingAndGlyphs">Empty vector virus</text>
<path d="M96.10,224.70l2.2,3.2M98.30,224.70l-2.0,3.4" fill="none" stroke="#f29a45" stroke-width="1" stroke-linecap="round"/>
<circle cx="95.90" cy="224.50" r="0.7" fill="#f29a45"/>
<circle cx="98.50" cy="224.50" r="0.7" fill="#f29a45"/>
<circle cx="98.40" cy="228.00" r="0.7" fill="#f29a45"/>
<circle cx="96.20" cy="228.20" r="0.7" fill="#f29a45"/>
<circle cx="97.30" cy="226.30" r="0.7" fill="#f29a45"/>
<g transform="translate(33.60,231.60) scale(1)">
<path d="M15.6,10.4C19.5,12.6 23.5,14.4 27.5,14.2C30.8,14.0 33.5,13.0 35.4,11.6" fill="none" stroke="#75767e" stroke-width="1.15" stroke-linecap="round"/>
<path d="M0,5.6C0.8,4.4 2.2,3.2 4,2.6C4.3,1 5.4,0 6.6,0.3C7.6,0.6 8,1.4 8,2.2C9.5,1.6 11.5,1.4 13,1.9C15.6,2.8 17.3,5.2 17.2,7.8C17.1,9.6 16.6,10.6 15.8,11.3L12,11.5L8.6,11.5C8,11.5 7.2,11.2 7,10.6L5.2,10.9C4.4,10.9 4.4,10.2 5,10L5.9,9.6C4.6,9 3.6,8.3 2.8,7.9C1.6,7.5 0.3,6.8 0,5.6Z" fill="#75767e" />
<circle cx="6.3" cy="1.9" r="1.0" fill="#00000022"/>
<circle cx="2.7" cy="4.9" r="0.45" fill="#1a1a1a"/>
<ellipse cx="9.3" cy="11.3" rx="1.1" ry="0.5" fill="#2a2a2e"/>
</g>
<text x="62.50" y="236.00" font-size="6.5" fill="#2a2627" textLength="15.50" lengthAdjust="spacingAndGlyphs">FACS</text>
<line x1="62.50" y1="238.80" x2="80.40" y2="238.80" stroke="#1c1a1b" stroke-width="1" />
<path d="M85.20,238.80L79.80,236.50L79.80,241.10Z" fill="#1c1a1b" />
<rect x="94.00" y="234.30" width="1.40" height="2.90" fill="#b3a8d6" />
<rect x="96.10" y="233.70" width="1.40" height="3.30" fill="#c3b6e0" />
<rect x="98.20" y="234.50" width="1.30" height="2.70" fill="#b3a8d6" />
<path d="M89.10,238.20v1.7a7.50,2.0 0 0 0 15.00,0v-1.7Z" fill="#f1c9ce" stroke="#7d5868" stroke-width="0.6"/>
<ellipse cx="96.60" cy="238.20" rx="7.50" ry="1.9" fill="#fff7f6" stroke="#7d5868" stroke-width="0.55"/>
<ellipse cx="96.60" cy="238.40" rx="5.70" ry="1.0" fill="#f3c3c8"/>
<text x="106.30" y="236.00" font-size="6.5" fill="#2a2627" textLength="18.00" lengthAdjust="spacingAndGlyphs">3 days</text>
<line x1="106.30" y1="238.80" x2="125.40" y2="238.80" stroke="#1c1a1b" stroke-width="1" />
<path d="M130.20,238.80L124.80,236.50L124.80,241.10Z" fill="#1c1a1b" />
<text x="108.00" y="247.20" font-size="6.5" fill="#2a2627" textLength="15.00" lengthAdjust="spacingAndGlyphs">FACS</text>
<circle cx="132.30" cy="236.60" r="1.1" fill="#c9b2d6"/>
<circle cx="134.90" cy="236.30" r="0.9" fill="#ebbccb"/>
<circle cx="133.70" cy="238.30" r="1" fill="#d3bcdc"/>
<circle cx="132.30" cy="240.20" r="1" fill="#e9bfcd"/>
<circle cx="135.00" cy="240.30" r="1" fill="#c9b2d6"/>
<line x1="139.50" y1="238.80" x2="155.40" y2="238.80" stroke="#1c1a1b" stroke-width="1" />
<path d="M160.20,238.80L154.80,236.50L154.80,241.10Z" fill="#1c1a1b" />
<circle cx="148.20" cy="231.70" r="1.7" fill="#d9a096"/>
<circle cx="150.70" cy="230.90" r="1.8" fill="#e3b4a8"/>
<circle cx="152.30" cy="232.90" r="1.6" fill="#cf978c"/>
<circle cx="149.70" cy="233.80" r="1.8" fill="#dda79b"/>
<circle cx="147.50" cy="233.80" r="1.2" fill="#e6bcb0"/>
<text x="136.20" y="213.00" font-size="6.5" fill="#2a2627" textLength="23.20" lengthAdjust="spacingAndGlyphs">+CD45.1</text>
<text x="136.60" y="220.30" font-size="6.5" fill="#2a2627" textLength="22.80" lengthAdjust="spacingAndGlyphs">BM cells</text>
<g transform="translate(165.20,218.00) scale(0.9184,1.12)">
<path d="M0,1.2L2.9,0L3.7,4.1L5,3.7L5.6,10.6L2.5,6.1L1.3,6.6Z" fill="#f6bd2a" stroke="#e8901f" stroke-width="0.5" stroke-linejoin="round"/>
</g>
<g transform="translate(162.40,230.30) scale(1.06)">
<path d="M15.6,10.4C19.5,12.6 23.5,14.4 27.5,14.2C30.8,14.0 33.5,13.0 35.4,11.6" fill="none" stroke="#686971" stroke-width="1.15" stroke-linecap="round"/>
<path d="M0,5.6C0.8,4.4 2.2,3.2 4,2.6C4.3,1 5.4,0 6.6,0.3C7.6,0.6 8,1.4 8,2.2C9.5,1.6 11.5,1.4 13,1.9C15.6,2.8 17.3,5.2 17.2,7.8C17.1,9.6 16.6,10.6 15.8,11.3L12,11.5L8.6,11.5C8,11.5 7.2,11.2 7,10.6L5.2,10.9C4.4,10.9 4.4,10.2 5,10L5.9,9.6C4.6,9 3.6,8.3 2.8,7.9C1.6,7.5 0.3,6.8 0,5.6Z" fill="#686971" />
<circle cx="6.3" cy="1.9" r="1.0" fill="#00000022"/>
<circle cx="2.7" cy="4.9" r="0.45" fill="#1a1a1a"/>
<ellipse cx="9.3" cy="11.3" rx="1.1" ry="0.5" fill="#2a2a2e"/>
</g>
<line x1="183.80" y1="241.00" x2="199.60" y2="232.50" stroke="#8e8f95" stroke-width="0.8" />
<line x1="195.41" y1="233.05" x2="196.83" y2="235.69" stroke="#8e8f95" stroke-width="0.7" />
<line x1="199.03" y1="231.44" x2="200.17" y2="233.56" stroke="#8e8f95" stroke-width="0.7" />
<line x1="188.54" y1="238.45" x2="196.12" y2="234.37" stroke="#8e8f95" stroke-width="1.25" />
<text x="205.00" y="239.70" font-size="6.5" fill="#2a2627" textLength="35.00" lengthAdjust="spacingAndGlyphs">shCtl-young</text>
<text x="36.30" y="255.80" font-size="6.5" fill="#2a2627" textLength="17.50" lengthAdjust="spacingAndGlyphs">Young</text>
<text x="70.50" y="258.90" font-size="6.5" fill="#2a2627" textLength="53.30" lengthAdjust="spacingAndGlyphs">Empty vector virus</text>
<path d="M96.10,263.90l2.2,3.2M98.30,263.90l-2.0,3.4" fill="none" stroke="#f29a45" stroke-width="1" stroke-linecap="round"/>
<circle cx="95.90" cy="263.70" r="0.7" fill="#f29a45"/>
<circle cx="98.50" cy="263.70" r="0.7" fill="#f29a45"/>
<circle cx="98.40" cy="267.20" r="0.7" fill="#f29a45"/>
<circle cx="96.20" cy="267.40" r="0.7" fill="#f29a45"/>
<circle cx="97.30" cy="265.50" r="0.7" fill="#f29a45"/>
<rect x="94.00" y="270.50" width="1.40" height="2.90" fill="#b3a8d6" />
<rect x="96.10" y="269.90" width="1.40" height="3.30" fill="#c3b6e0" />
<rect x="98.20" y="270.70" width="1.30" height="2.70" fill="#b3a8d6" />
<path d="M89.10,274.40v1.7a7.50,2.0 0 0 0 15.00,0v-1.7Z" fill="#f1c9ce" stroke="#7d5868" stroke-width="0.6"/>
<ellipse cx="96.60" cy="274.40" rx="7.50" ry="1.9" fill="#fff7f6" stroke="#7d5868" stroke-width="0.55"/>
<ellipse cx="96.60" cy="274.60" rx="5.70" ry="1.0" fill="#f3c3c8"/>
<line x1="79.50" y1="274.30" x2="83.00" y2="274.30" stroke="#1c1a1b" stroke-width="1" />
<path d="M87.80,274.30L82.40,272.00L82.40,276.60Z" fill="#1c1a1b" />
<line x1="106.30" y1="274.30" x2="125.40" y2="274.30" stroke="#1c1a1b" stroke-width="1" />
<path d="M130.20,274.30L124.80,272.00L124.80,276.60Z" fill="#1c1a1b" />
<circle cx="132.30" cy="272.30" r="1.1" fill="#c9b2d6"/>
<circle cx="134.90" cy="272.00" r="0.9" fill="#ebbccb"/>
<circle cx="133.70" cy="274.00" r="1" fill="#d3bcdc"/>
<circle cx="132.30" cy="275.90" r="1" fill="#e9bfcd"/>
<circle cx="135.00" cy="276.00" r="1" fill="#c9b2d6"/>
<line x1="139.50" y1="274.30" x2="155.40" y2="274.30" stroke="#1c1a1b" stroke-width="1" />
<path d="M160.20,274.30L154.80,272.00L154.80,276.60Z" fill="#1c1a1b" />
<circle cx="148.20" cy="266.90" r="1.7" fill="#d9a096"/>
<circle cx="150.70" cy="266.10" r="1.8" fill="#e3b4a8"/>
<circle cx="152.30" cy="268.10" r="1.6" fill="#cf978c"/>
<circle cx="149.70" cy="269.00" r="1.8" fill="#dda79b"/>
<circle cx="147.50" cy="269.00" r="1.2" fill="#e6bcb0"/>
<g transform="translate(165.20,254.40) scale(0.9184,1.12)">
<path d="M0,1.2L2.9,0L3.7,4.1L5,3.7L5.6,10.6L2.5,6.1L1.3,6.6Z" fill="#f6bd2a" stroke="#e8901f" stroke-width="0.5" stroke-linejoin="round"/>
</g>
<g transform="translate(162.40,266.30) scale(1.06)">
<path d="M15.6,10.4C19.5,12.6 23.5,14.4 27.5,14.2C30.8,14.0 33.5,13.0 35.4,11.6" fill="none" stroke="#686971" stroke-width="1.15" stroke-linecap="round"/>
<path d="M0,5.6C0.8,4.4 2.2,3.2 4,2.6C4.3,1 5.4,0 6.6,0.3C7.6,0.6 8,1.4 8,2.2C9.5,1.6 11.5,1.4 13,1.9C15.6,2.8 17.3,5.2 17.2,7.8C17.1,9.6 16.6,10.6 15.8,11.3L12,11.5L8.6,11.5C8,11.5 7.2,11.2 7,10.6L5.2,10.9C4.4,10.9 4.4,10.2 5,10L5.9,9.6C4.6,9 3.6,8.3 2.8,7.9C1.6,7.5 0.3,6.8 0,5.6Z" fill="#686971" />
<circle cx="6.3" cy="1.9" r="1.0" fill="#00000022"/>
<circle cx="2.7" cy="4.9" r="0.45" fill="#1a1a1a"/>
<ellipse cx="9.3" cy="11.3" rx="1.1" ry="0.5" fill="#2a2a2e"/>
</g>
<line x1="183.80" y1="277.00" x2="199.60" y2="268.50" stroke="#8e8f95" stroke-width="0.8" />
<line x1="195.41" y1="269.05" x2="196.83" y2="271.69" stroke="#8e8f95" stroke-width="0.7" />
<line x1="199.03" y1="267.44" x2="200.17" y2="269.56" stroke="#8e8f95" stroke-width="0.7" />
<line x1="188.54" y1="274.45" x2="196.12" y2="270.37" stroke="#8e8f95" stroke-width="1.25" />
<text x="205.00" y="277.00" font-size="6.5" fill="#2a2627" textLength="31.50" lengthAdjust="spacingAndGlyphs">shCtl-aged</text>
<text x="81.30" y="285.80" font-size="6.5" fill="#2a2627" textLength="31.30" lengthAdjust="spacingAndGlyphs">shFus virus</text>
<g transform="translate(33.60,281.60) scale(1)">
<path d="M15.6,10.4C19.5,12.6 23.5,14.4 27.5,14.2C30.8,14.0 33.5,13.0 35.4,11.6" fill="none" stroke="#75767e" stroke-width="1.15" stroke-linecap="round"/>
<path d="M0,5.6C0.8,4.4 2.2,3.2 4,2.6C4.3,1 5.4,0 6.6,0.3C7.6,0.6 8,1.4 8,2.2C9.5,1.6 11.5,1.4 13,1.9C15.6,2.8 17.3,5.2 17.2,7.8C17.1,9.6 16.6,10.6 15.8,11.3L12,11.5L8.6,11.5C8,11.5 7.2,11.2 7,10.6L5.2,10.9C4.4,10.9 4.4,10.2 5,10L5.9,9.6C4.6,9 3.6,8.3 2.8,7.9C1.6,7.5 0.3,6.8 0,5.6Z" fill="#75767e" />
<circle cx="6.3" cy="1.9" r="1.0" fill="#00000022"/>
<circle cx="2.7" cy="4.9" r="0.45" fill="#1a1a1a"/>
<ellipse cx="9.3" cy="11.3" rx="1.1" ry="0.5" fill="#2a2a2e"/>
</g>
<text x="62.50" y="287.80" font-size="6.5" fill="#2a2627" textLength="15.50" lengthAdjust="spacingAndGlyphs">FACS</text>
<path d="M62.5,289.4H79.5M79.5,273.9V301.2" fill="none" stroke="#1c1a1b" stroke-width="0.9" />
<text x="37.50" y="304.30" font-size="6.5" fill="#2a2627" textLength="15.00" lengthAdjust="spacingAndGlyphs">Aged</text>
<path d="M96.10,290.90l2.2,3.2M98.30,290.90l-2.0,3.4" fill="none" stroke="#f29a45" stroke-width="1" stroke-linecap="round"/>
<circle cx="95.90" cy="290.70" r="0.7" fill="#f29a45"/>
<circle cx="98.50" cy="290.70" r="0.7" fill="#f29a45"/>
<circle cx="98.40" cy="294.20" r="0.7" fill="#f29a45"/>
<circle cx="96.20" cy="294.40" r="0.7" fill="#f29a45"/>
<circle cx="97.30" cy="292.50" r="0.7" fill="#f29a45"/>
<rect x="94.00" y="297.10" width="1.40" height="2.90" fill="#b3a8d6" />
<rect x="96.10" y="296.50" width="1.40" height="3.30" fill="#c3b6e0" />
<rect x="98.20" y="297.30" width="1.30" height="2.70" fill="#b3a8d6" />
<path d="M89.10,301.00v1.7a7.50,2.0 0 0 0 15.00,0v-1.7Z" fill="#f1c9ce" stroke="#7d5868" stroke-width="0.6"/>
<ellipse cx="96.60" cy="301.00" rx="7.50" ry="1.9" fill="#fff7f6" stroke="#7d5868" stroke-width="0.55"/>
<ellipse cx="96.60" cy="301.20" rx="5.70" ry="1.0" fill="#f3c3c8"/>
<line x1="79.50" y1="300.80" x2="83.00" y2="300.80" stroke="#1c1a1b" stroke-width="1" />
<path d="M87.80,300.80L82.40,298.50L82.40,303.10Z" fill="#1c1a1b" />
<line x1="106.30" y1="300.80" x2="125.40" y2="300.80" stroke="#1c1a1b" stroke-width="1" />
<path d="M130.20,300.80L124.80,298.50L124.80,303.10Z" fill="#1c1a1b" />
<circle cx="132.30" cy="298.90" r="1.1" fill="#c9b2d6"/>
<circle cx="134.90" cy="298.60" r="0.9" fill="#ebbccb"/>
<circle cx="133.70" cy="300.60" r="1" fill="#d3bcdc"/>
<circle cx="132.30" cy="302.50" r="1" fill="#e9bfcd"/>
<circle cx="135.00" cy="302.60" r="1" fill="#c9b2d6"/>
<line x1="139.50" y1="300.80" x2="155.40" y2="300.80" stroke="#1c1a1b" stroke-width="1" />
<path d="M160.20,300.80L154.80,298.50L154.80,303.10Z" fill="#1c1a1b" />
<circle cx="148.20" cy="293.30" r="1.7" fill="#d9a096"/>
<circle cx="150.70" cy="292.50" r="1.8" fill="#e3b4a8"/>
<circle cx="152.30" cy="294.50" r="1.6" fill="#cf978c"/>
<circle cx="149.70" cy="295.40" r="1.8" fill="#dda79b"/>
<circle cx="147.50" cy="295.40" r="1.2" fill="#e6bcb0"/>
<g transform="translate(165.20,280.60) scale(0.9184,1.12)">
<path d="M0,1.2L2.9,0L3.7,4.1L5,3.7L5.6,10.6L2.5,6.1L1.3,6.6Z" fill="#f6bd2a" stroke="#e8901f" stroke-width="0.5" stroke-linejoin="round"/>
</g>
<g transform="translate(162.40,292.10) scale(1.06)">
<path d="M15.6,10.4C19.5,12.6 23.5,14.4 27.5,14.2C30.8,14.0 33.5,13.0 35.4,11.6" fill="none" stroke="#686971" stroke-width="1.15" stroke-linecap="round"/>
<path d="M0,5.6C0.8,4.4 2.2,3.2 4,2.6C4.3,1 5.4,0 6.6,0.3C7.6,0.6 8,1.4 8,2.2C9.5,1.6 11.5,1.4 13,1.9C15.6,2.8 17.3,5.2 17.2,7.8C17.1,9.6 16.6,10.6 15.8,11.3L12,11.5L8.6,11.5C8,11.5 7.2,11.2 7,10.6L5.2,10.9C4.4,10.9 4.4,10.2 5,10L5.9,9.6C4.6,9 3.6,8.3 2.8,7.9C1.6,7.5 0.3,6.8 0,5.6Z" fill="#686971" />
<circle cx="6.3" cy="1.9" r="1.0" fill="#00000022"/>
<circle cx="2.7" cy="4.9" r="0.45" fill="#1a1a1a"/>
<ellipse cx="9.3" cy="11.3" rx="1.1" ry="0.5" fill="#2a2a2e"/>
</g>
<line x1="183.80" y1="295.80" x2="199.60" y2="287.50" stroke="#8e8f95" stroke-width="0.8" />
<line x1="195.43" y1="288.00" x2="196.82" y2="290.65" stroke="#8e8f95" stroke-width="0.7" />
<line x1="199.04" y1="286.44" x2="200.16" y2="288.56" stroke="#8e8f95" stroke-width="0.7" />
<line x1="188.54" y1="293.31" x2="196.12" y2="289.33" stroke="#8e8f95" stroke-width="1.25" />
<text x="205.00" y="301.00" font-size="6.5" fill="#2a2627" textLength="35.00" lengthAdjust="spacingAndGlyphs">shFUS-aged</text>
<text x="91.30" y="313.60" font-size="6.5" fill="#2a2627" textLength="11.30" lengthAdjust="spacingAndGlyphs">LSK</text>
<text x="111.70" y="317.40" font-size="6.5" fill="#2a2627" textLength="37.80" lengthAdjust="spacingAndGlyphs">Sca-1<tspan font-size="5" dy="-2.4">+</tspan><tspan dy="2.4">CD48</tspan><tspan font-size="5" dy="-2.4">–</tspan></text>
<text x="110.00" y="325.00" font-size="6.5" fill="#2a2627" textLength="42.00" lengthAdjust="spacingAndGlyphs">mCherry<tspan font-size="5" dy="-2.4">+</tspan><tspan dy="2.4"> cells</tspan></text>
<text x="285.00" y="213.80" font-size="11" font-weight="bold" fill="#0d0d0d" stroke="#0d0d0d" stroke-width="0.35" textLength="7.60" lengthAdjust="spacingAndGlyphs">G</text>
<text x="349.50" y="235.00" font-size="6.5" fill="#2a2627" textLength="11.70" lengthAdjust="spacingAndGlyphs">HSC</text>
<line x1="330.50" y1="236.90" x2="380.50" y2="236.90" stroke="#2a2627" stroke-width="0.8" />
<text x="328.20" y="245.30" font-size="6.5" fill="#2a2627" textLength="17.30" lengthAdjust="spacingAndGlyphs">Young</text>
<text x="347.70" y="245.30" font-size="6.5" fill="#2a2627" textLength="15.30" lengthAdjust="spacingAndGlyphs">Aged</text>
<text x="365.50" y="245.30" font-size="6.5" fill="#2a2627" textLength="15.30" lengthAdjust="spacingAndGlyphs">Aged</text>
<text x="297.00" y="251.30" font-size="6.5" fill="#2a2627" textLength="30.50" lengthAdjust="spacingAndGlyphs">Fus shRNA</text>
<text x="338.30" y="251.00" font-size="6.5" text-anchor="middle" fill="#2a2627">–</text>
<text x="355.00" y="251.00" font-size="6.5" text-anchor="middle" fill="#2a2627">–</text>
<text x="371.80" y="251.30" font-size="6.5" text-anchor="middle" fill="#2a2627">+</text>
<rect x="330.30" y="253.20" width="50.20" height="15.50" fill="#d6d6d6" stroke="#4a4a4a" stroke-width="0.9" />
<rect x="332.50" y="262.20" width="12.00" height="1.70" rx="0.85" fill="#222" filter="url(#bl)"/>
<rect x="347.50" y="261.60" width="13.00" height="2.00" rx="1.00" fill="#111" filter="url(#bl)"/>
<rect x="365.00" y="267.00" width="13.00" height="1.00" rx="0.50" fill="#888" filter="url(#bl)"/>
<rect x="330.30" y="270.70" width="50.20" height="15.00" fill="#dadada" stroke="#4a4a4a" stroke-width="0.9" />
<rect x="331.50" y="276.30" width="14.50" height="3.60" rx="1.80" fill="#050505" filter="url(#bl)"/>
<rect x="346.80" y="276.30" width="14.80" height="3.60" rx="1.80" fill="#050505" filter="url(#bl)"/>
<rect x="363.80" y="276.30" width="14.80" height="3.80" rx="1.90" fill="#050505" filter="url(#bl)"/>
<text x="383.00" y="266.20" font-size="6.5" fill="#2a2627" textLength="11.30" lengthAdjust="spacingAndGlyphs">FUS</text>
<text x="383.00" y="282.50" font-size="6.5" fill="#2a2627" textLength="8.00" lengthAdjust="spacingAndGlyphs">H3</text>
<text x="423.00" y="235.00" font-size="6.5" fill="#2a2627" textLength="10.80" lengthAdjust="spacingAndGlyphs">LSK</text>
<line x1="411.30" y1="237.10" x2="443.80" y2="237.10" stroke="#2a2627" stroke-width="0.8" />
<text x="411.30" y="245.00" font-size="6.5" fill="#2a2627" textLength="14.20" lengthAdjust="spacingAndGlyphs">shCtl</text>
<text x="429.30" y="245.00" font-size="6.5" fill="#2a2627" textLength="17.70" lengthAdjust="spacingAndGlyphs">shFUS</text>
<rect x="411.50" y="252.70" width="32.70" height="16.00" fill="#b9b9b9" stroke="#4a4a4a" stroke-width="0.9" />
<rect x="412.20" y="253.40" width="16.60" height="14.80" rx="7.40" fill="#050505" filter="url(#bl2)"/>
<rect x="431.00" y="259.30" width="10.00" height="1.30" rx="0.65" fill="#8a8a8a" filter="url(#bl)"/>
<ellipse cx="420.2" cy="260.8" rx="8.2" ry="7.5" fill="#050505" filter="url(#bl)"/>
<rect x="411.50" y="270.70" width="32.70" height="15.00" fill="#dcdcdc" stroke="#4a4a4a" stroke-width="0.9" />
<rect x="413.00" y="277.20" width="12.80" height="2.60" rx="1.30" fill="#0a0a0a" filter="url(#bl)"/>
<rect x="429.30" y="277.00" width="12.50" height="2.80" rx="1.40" fill="#0a0a0a" filter="url(#bl)"/>
<text x="446.30" y="264.20" font-size="6.5" fill="#2a2627" textLength="11.30" lengthAdjust="spacingAndGlyphs">FUS</text>
<text x="446.30" y="280.50" font-size="6.5" fill="#2a2627" textLength="8.00" lengthAdjust="spacingAndGlyphs">H3</text>
<text x="7.30" y="338.00" font-size="11" font-weight="bold" fill="#0d0d0d" stroke="#0d0d0d" stroke-width="0.35" textLength="7.40" lengthAdjust="spacingAndGlyphs">H</text>
<text x="44.50" y="346.20" font-size="8.6" fill="#2a2627" textLength="27.60" lengthAdjust="spacingAndGlyphs">Overall</text>
<line x1="37.00" y1="351.30" x2="37.00" y2="401.02" stroke="#1c1a1b" stroke-width="1.05" />
<line x1="36.48" y1="400.50" x2="80.00" y2="400.50" stroke="#1c1a1b" stroke-width="1.05" />
<line x1="34.00" y1="400.40" x2="37.00" y2="400.40" stroke="#1c1a1b" stroke-width="1.05" />
<text x="31.80" y="402.67" font-size="6.3" text-anchor="end" fill="#2a2627">20</text>
<line x1="34.00" y1="388.75" x2="37.00" y2="388.75" stroke="#1c1a1b" stroke-width="1.05" />
<text x="31.80" y="391.02" font-size="6.3" text-anchor="end" fill="#2a2627">40</text>
<line x1="34.00" y1="377.10" x2="37.00" y2="377.10" stroke="#1c1a1b" stroke-width="1.05" />
<text x="31.80" y="379.37" font-size="6.3" text-anchor="end" fill="#2a2627">60</text>
<line x1="34.00" y1="365.45" x2="37.00" y2="365.45" stroke="#1c1a1b" stroke-width="1.05" />
<text x="31.80" y="367.72" font-size="6.3" text-anchor="end" fill="#2a2627">80</text>
<line x1="34.00" y1="353.80" x2="37.00" y2="353.80" stroke="#1c1a1b" stroke-width="1.05" />
<text x="31.80" y="356.07" font-size="6.3" text-anchor="end" fill="#2a2627">100</text>
<line x1="46.30" y1="400.50" x2="46.30" y2="403.70" stroke="#1c1a1b" stroke-width="1.05" />
<text x="46.30" y="411.70" font-size="6.3" text-anchor="middle" fill="#2a2627">4</text>
<line x1="56.53" y1="400.50" x2="56.53" y2="403.70" stroke="#1c1a1b" stroke-width="1.05" />
<text x="56.53" y="411.70" font-size="6.3" text-anchor="middle" fill="#2a2627">8</text>
<line x1="66.77" y1="400.50" x2="66.77" y2="403.70" stroke="#1c1a1b" stroke-width="1.05" />
<text x="66.77" y="411.70" font-size="6.3" text-anchor="middle" fill="#2a2627">12</text>
<line x1="77.00" y1="400.50" x2="77.00" y2="403.70" stroke="#1c1a1b" stroke-width="1.05" />
<text x="77.00" y="411.70" font-size="6.3" text-anchor="middle" fill="#2a2627">16</text>
<path d="M46.30,377.10V381.18M44.90,377.10H47.70M44.90,381.18H47.70M56.53,371.45V381.35M55.13,371.45H57.93M55.13,381.35H57.93M66.77,375.64V387.88M65.37,375.64H68.17M65.37,387.88H68.17M77.00,376.23V388.46M75.60,376.23H78.40M75.60,388.46H78.40" fill="none" stroke="#c4122f" stroke-width="0.6" />
<polyline points="46.30,379.14 56.53,376.40 66.77,381.76 77.00,382.34" fill="none" stroke="#c4122f" stroke-width="1" stroke-linejoin="round"/>
<circle cx="46.30" cy="379.14" r="1.15" fill="#c4122f"/>
<circle cx="56.53" cy="376.40" r="1.15" fill="#c4122f"/>
<circle cx="66.77" cy="381.76" r="1.15" fill="#c4122f"/>
<circle cx="77.00" cy="382.34" r="1.15" fill="#c4122f"/>
<path d="M46.30,367.20V369.53M44.90,367.20H47.70M44.90,369.53H47.70M56.53,361.08V363.99M55.13,361.08H57.93M55.13,363.99H57.93M66.77,361.26V364.75M65.37,361.26H68.17M65.37,364.75H68.17M77.00,361.26V364.75M75.60,361.26H78.40M75.60,364.75H78.40" fill="none" stroke="#3aa935" stroke-width="0.6" />
<polyline points="46.30,368.36 56.53,362.54 66.77,363.00 77.00,363.00" fill="none" stroke="#3aa935" stroke-width="1" stroke-linejoin="round"/>
<rect x="45.15" y="367.21" width="2.30" height="2.30" fill="#3aa935" />
<rect x="55.38" y="361.39" width="2.30" height="2.30" fill="#3aa935" />
<rect x="65.62" y="361.85" width="2.30" height="2.30" fill="#3aa935" />
<rect x="75.85" y="361.85" width="2.30" height="2.30" fill="#3aa935" />
<path d="M46.30,367.49V370.40M44.90,367.49H47.70M44.90,370.40H47.70M56.53,363.00V366.50M55.13,363.00H57.93M55.13,366.50H57.93M66.77,363.00V367.66M65.37,363.00H68.17M65.37,367.66H68.17M77.00,363.06V368.30M75.60,363.06H78.40M75.60,368.30H78.40" fill="none" stroke="#1f4e8c" stroke-width="0.6" />
<polyline points="46.30,368.94 56.53,364.75 66.77,365.33 77.00,365.68" fill="none" stroke="#1f4e8c" stroke-width="1" stroke-linejoin="round"/>
<path d="M46.30,367.56L47.56,369.98L45.03,369.98Z" fill="#1f4e8c" />
<path d="M56.53,363.37L57.80,365.79L55.27,365.79Z" fill="#1f4e8c" />
<path d="M66.77,363.95L68.03,366.37L65.50,366.37Z" fill="#1f4e8c" />
<path d="M77.00,364.30L78.27,366.72L75.73,366.72Z" fill="#1f4e8c" />
<text transform="translate(14.00,375.50) rotate(-90)" font-size="8.8" text-anchor="middle" fill="#2a2627" textLength="61.00" lengthAdjust="spacingAndGlyphs">Donor chimerism(%)</text>
<text x="40.00" y="419.50" font-size="8.8" fill="#2a2627" textLength="42.50" lengthAdjust="spacingAndGlyphs">Weeks after Tx</text>
<line x1="83.80" y1="365.50" x2="90.60" y2="365.50" stroke="#3aa935" stroke-width="1" />
<rect x="86.05" y="364.35" width="2.30" height="2.30" fill="#3aa935" />
<text x="93.00" y="367.64" font-size="6.3" fill="#2a2627" textLength="34.50" lengthAdjust="spacingAndGlyphs">shCtl-young</text>
<line x1="83.80" y1="376.30" x2="90.60" y2="376.30" stroke="#c4122f" stroke-width="1" />
<circle cx="87.20" cy="376.30" r="1.15" fill="#c4122f"/>
<text x="93.00" y="378.44" font-size="6.3" fill="#2a2627" textLength="30.80" lengthAdjust="spacingAndGlyphs">shCtl-aged</text>
<line x1="83.80" y1="386.30" x2="90.60" y2="386.30" stroke="#1f4e8c" stroke-width="1" />
<path d="M87.20,384.90l1.3,2.3h-2.6Z" fill="#1f4e8c" />
<text x="93.00" y="388.44" font-size="6.3" fill="#2a2627" textLength="34.50" lengthAdjust="spacingAndGlyphs">shFUS-aged</text>
<path d="M128.2,365.5H131.3V386.3H128.2" fill="none" stroke="#1c1a1b" stroke-width="0.8" />
<circle cx="129.6" cy="376.3" r="1.1" fill="#111"/>
<text x="135.80" y="373.30" font-size="7.2" text-anchor="middle" fill="#000" textLength="5.50" lengthAdjust="spacingAndGlyphs">**</text>
<text x="134.40" y="384.70" font-size="7.2" text-anchor="middle" fill="#000" textLength="2.75" lengthAdjust="spacingAndGlyphs">*</text>
<text x="176.30" y="346.20" font-size="8.6" fill="#2a2627" textLength="26.40" lengthAdjust="spacingAndGlyphs">B Cells</text>
<line x1="168.30" y1="351.30" x2="168.30" y2="401.02" stroke="#1c1a1b" stroke-width="1.05" />
<line x1="167.78" y1="400.50" x2="213.80" y2="400.50" stroke="#1c1a1b" stroke-width="1.05" />
<line x1="165.30" y1="400.40" x2="168.30" y2="400.40" stroke="#1c1a1b" stroke-width="1.05" />
<text x="163.10" y="402.67" font-size="6.3" text-anchor="end" fill="#2a2627">0</text>
<line x1="165.30" y1="391.08" x2="168.30" y2="391.08" stroke="#1c1a1b" stroke-width="1.05" />
<text x="163.10" y="393.35" font-size="6.3" text-anchor="end" fill="#2a2627">20</text>
<line x1="165.30" y1="381.76" x2="168.30" y2="381.76" stroke="#1c1a1b" stroke-width="1.05" />
<text x="163.10" y="384.03" font-size="6.3" text-anchor="end" fill="#2a2627">40</text>
<line x1="165.30" y1="372.44" x2="168.30" y2="372.44" stroke="#1c1a1b" stroke-width="1.05" />
<text x="163.10" y="374.71" font-size="6.3" text-anchor="end" fill="#2a2627">60</text>
<line x1="165.30" y1="363.12" x2="168.30" y2="363.12" stroke="#1c1a1b" stroke-width="1.05" />
<text x="163.10" y="365.39" font-size="6.3" text-anchor="end" fill="#2a2627">80</text>
<line x1="165.30" y1="353.80" x2="168.30" y2="353.80" stroke="#1c1a1b" stroke-width="1.05" />
<text x="163.10" y="356.07" font-size="6.3" text-anchor="end" fill="#2a2627">100</text>
<line x1="180.00" y1="400.50" x2="180.00" y2="403.70" stroke="#1c1a1b" stroke-width="1.05" />
<text x="180.00" y="411.70" font-size="6.3" text-anchor="middle" fill="#2a2627">4</text>
<line x1="190.27" y1="400.50" x2="190.27" y2="403.70" stroke="#1c1a1b" stroke-width="1.05" />
<text x="190.27" y="411.70" font-size="6.3" text-anchor="middle" fill="#2a2627">8</text>
<line x1="200.53" y1="400.50" x2="200.53" y2="403.70" stroke="#1c1a1b" stroke-width="1.05" />
<text x="200.53" y="411.70" font-size="6.3" text-anchor="middle" fill="#2a2627">12</text>
<line x1="210.80" y1="400.50" x2="210.80" y2="403.70" stroke="#1c1a1b" stroke-width="1.05" />
<text x="210.80" y="411.70" font-size="6.3" text-anchor="middle" fill="#2a2627">16</text>
<path d="M180.00,390.61V392.01M178.60,390.61H181.40M178.60,392.01H181.40M190.27,374.30V384.56M188.87,374.30H191.67M188.87,384.56H191.67M200.53,373.51V385.16M199.13,373.51H201.93M199.13,385.16H201.93M210.80,372.91V385.02M209.40,372.91H212.20M209.40,385.02H212.20" fill="none" stroke="#c4122f" stroke-width="0.6" />
<polyline points="180.00,391.31 190.27,379.43 200.53,379.34 210.80,378.96" fill="none" stroke="#c4122f" stroke-width="1" stroke-linejoin="round"/>
<circle cx="180.00" cy="391.31" r="1.15" fill="#c4122f"/>
<circle cx="190.27" cy="379.43" r="1.15" fill="#c4122f"/>
<circle cx="200.53" cy="379.34" r="1.15" fill="#c4122f"/>
<circle cx="210.80" cy="378.96" r="1.15" fill="#c4122f"/>
<path d="M180.00,366.38V369.18M178.60,366.38H181.40M178.60,369.18H181.40M190.27,360.09V362.42M188.87,360.09H191.67M188.87,362.42H191.67M200.53,359.86V362.19M199.13,359.86H201.93M199.13,362.19H201.93M210.80,359.39V362.19M209.40,359.39H212.20M209.40,362.19H212.20" fill="none" stroke="#3aa935" stroke-width="0.6" />
<polyline points="180.00,367.78 190.27,361.26 200.53,361.02 210.80,360.79" fill="none" stroke="#3aa935" stroke-width="1" stroke-linejoin="round"/>
<rect x="178.85" y="366.63" width="2.30" height="2.30" fill="#3aa935" />
<rect x="189.12" y="360.11" width="2.30" height="2.30" fill="#3aa935" />
<rect x="199.38" y="359.87" width="2.30" height="2.30" fill="#3aa935" />
<rect x="209.65" y="359.64" width="2.30" height="2.30" fill="#3aa935" />
<path d="M180.00,374.07V377.33M178.60,374.07H181.40M178.60,377.33H181.40M190.27,361.26V364.05M188.87,361.26H191.67M188.87,364.05H191.67M200.53,361.26V364.05M199.13,361.26H201.93M199.13,364.05H201.93M210.80,360.79V364.98M209.40,360.79H212.20M209.40,364.98H212.20" fill="none" stroke="#1f4e8c" stroke-width="0.6" />
<polyline points="180.00,375.70 190.27,362.65 200.53,362.65 210.80,362.89" fill="none" stroke="#1f4e8c" stroke-width="1" stroke-linejoin="round"/>
<path d="M180.00,374.32L181.26,376.74L178.74,376.74Z" fill="#1f4e8c" />
<path d="M190.27,361.27L191.53,363.69L189.00,363.69Z" fill="#1f4e8c" />
<path d="M200.53,361.27L201.80,363.69L199.27,363.69Z" fill="#1f4e8c" />
<path d="M210.80,361.51L212.06,363.92L209.54,363.92Z" fill="#1f4e8c" />
<text x="248.60" y="346.20" font-size="8.6" fill="#2a2627" textLength="25.80" lengthAdjust="spacingAndGlyphs">T Cells</text>
<line x1="242.50" y1="351.30" x2="242.50" y2="401.02" stroke="#1c1a1b" stroke-width="1.05" />
<line x1="241.97" y1="400.50" x2="285.60" y2="400.50" stroke="#1c1a1b" stroke-width="1.05" />
<line x1="239.50" y1="400.40" x2="242.50" y2="400.40" stroke="#1c1a1b" stroke-width="1.05" />
<text x="237.30" y="402.67" font-size="6.3" text-anchor="end" fill="#2a2627">0</text>
<line x1="239.50" y1="388.75" x2="242.50" y2="388.75" stroke="#1c1a1b" stroke-width="1.05" />
<text x="237.30" y="391.02" font-size="6.3" text-anchor="end" fill="#2a2627">20</text>
<line x1="239.50" y1="377.10" x2="242.50" y2="377.10" stroke="#1c1a1b" stroke-width="1.05" />
<text x="237.30" y="379.37" font-size="6.3" text-anchor="end" fill="#2a2627">40</text>
<line x1="239.50" y1="365.45" x2="242.50" y2="365.45" stroke="#1c1a1b" stroke-width="1.05" />
<text x="237.30" y="367.72" font-size="6.3" text-anchor="end" fill="#2a2627">60</text>
<line x1="239.50" y1="353.80" x2="242.50" y2="353.80" stroke="#1c1a1b" stroke-width="1.05" />
<text x="237.30" y="356.07" font-size="6.3" text-anchor="end" fill="#2a2627">80</text>
<line x1="252.50" y1="400.50" x2="252.50" y2="403.70" stroke="#1c1a1b" stroke-width="1.05" />
<text x="252.50" y="411.70" font-size="6.3" text-anchor="middle" fill="#2a2627">4</text>
<line x1="262.73" y1="400.50" x2="262.73" y2="403.70" stroke="#1c1a1b" stroke-width="1.05" />
<text x="262.73" y="411.70" font-size="6.3" text-anchor="middle" fill="#2a2627">8</text>
<line x1="272.97" y1="400.50" x2="272.97" y2="403.70" stroke="#1c1a1b" stroke-width="1.05" />
<text x="272.97" y="411.70" font-size="6.3" text-anchor="middle" fill="#2a2627">12</text>
<line x1="283.20" y1="400.50" x2="283.20" y2="403.70" stroke="#1c1a1b" stroke-width="1.05" />
<text x="283.20" y="411.70" font-size="6.3" text-anchor="middle" fill="#2a2627">16</text>
<path d="M252.50,366.61V375.94M251.10,366.61H253.90M251.10,375.94H253.90M262.73,372.44V380.59M261.33,372.44H264.13M261.33,380.59H264.13M272.97,371.86V381.18M271.57,371.86H274.37M271.57,381.18H274.37M283.20,370.40V379.72M281.80,370.40H284.60M281.80,379.72H284.60" fill="none" stroke="#3aa935" stroke-width="0.6" />
<polyline points="252.50,371.27 262.73,376.52 272.97,376.52 283.20,375.06" fill="none" stroke="#3aa935" stroke-width="1" stroke-linejoin="round"/>
<rect x="251.35" y="370.12" width="2.30" height="2.30" fill="#3aa935" />
<rect x="261.58" y="375.37" width="2.30" height="2.30" fill="#3aa935" />
<rect x="271.82" y="375.37" width="2.30" height="2.30" fill="#3aa935" />
<rect x="282.05" y="373.91" width="2.30" height="2.30" fill="#3aa935" />
<path d="M252.50,375.94V384.09M251.10,375.94H253.90M251.10,384.09H253.90M262.73,394.57V396.32M261.33,394.57H264.13M261.33,396.32H264.13M272.97,392.83V396.32M271.57,392.83H274.37M271.57,396.32H274.37M283.20,390.21V394.28M281.80,390.21H284.60M281.80,394.28H284.60" fill="none" stroke="#1f4e8c" stroke-width="0.6" />
<polyline points="252.50,380.01 262.73,395.45 272.97,394.57 283.20,392.25" fill="none" stroke="#1f4e8c" stroke-width="1" stroke-linejoin="round"/>
<path d="M252.50,378.63L253.76,381.05L251.24,381.05Z" fill="#1f4e8c" />
<path d="M262.73,394.07L264.00,396.48L261.47,396.48Z" fill="#1f4e8c" />
<path d="M272.97,393.19L274.23,395.61L271.70,395.61Z" fill="#1f4e8c" />
<path d="M283.20,390.87L284.46,393.28L281.94,393.28Z" fill="#1f4e8c" />
<path d="M252.50,362.54V368.36M251.10,362.54H253.90M251.10,368.36H253.90M262.73,388.46V392.54M261.33,388.46H264.13M261.33,392.54H264.13M272.97,387.18V393.58M271.57,387.18H274.37M271.57,393.58H274.37M283.20,386.36V393.93M281.80,386.36H284.60M281.80,393.93H284.60" fill="none" stroke="#c4122f" stroke-width="0.6" />
<polyline points="252.50,365.45 262.73,390.50 272.97,390.38 283.20,390.15" fill="none" stroke="#c4122f" stroke-width="1" stroke-linejoin="round"/>
<circle cx="252.50" cy="365.45" r="1.15" fill="#c4122f"/>
<circle cx="262.73" cy="390.50" r="1.15" fill="#c4122f"/>
<circle cx="272.97" cy="390.38" r="1.15" fill="#c4122f"/>
<circle cx="283.20" cy="390.15" r="1.15" fill="#c4122f"/>
<text x="324.50" y="346.20" font-size="8.6" fill="#2a2627" textLength="30.60" lengthAdjust="spacingAndGlyphs">Myeloid</text>
<line x1="317.40" y1="351.30" x2="317.40" y2="401.02" stroke="#1c1a1b" stroke-width="1.05" />
<line x1="316.88" y1="400.50" x2="361.30" y2="400.50" stroke="#1c1a1b" stroke-width="1.05" />
<line x1="314.40" y1="400.40" x2="317.40" y2="400.40" stroke="#1c1a1b" stroke-width="1.05" />
<text x="312.20" y="402.67" font-size="6.3" text-anchor="end" fill="#2a2627">20</text>
<line x1="314.40" y1="388.75" x2="317.40" y2="388.75" stroke="#1c1a1b" stroke-width="1.05" />
<text x="312.20" y="391.02" font-size="6.3" text-anchor="end" fill="#2a2627">40</text>
<line x1="314.40" y1="377.10" x2="317.40" y2="377.10" stroke="#1c1a1b" stroke-width="1.05" />
<text x="312.20" y="379.37" font-size="6.3" text-anchor="end" fill="#2a2627">60</text>
<line x1="314.40" y1="365.45" x2="317.40" y2="365.45" stroke="#1c1a1b" stroke-width="1.05" />
<text x="312.20" y="367.72" font-size="6.3" text-anchor="end" fill="#2a2627">80</text>
<line x1="314.40" y1="353.80" x2="317.40" y2="353.80" stroke="#1c1a1b" stroke-width="1.05" />
<text x="312.20" y="356.07" font-size="6.3" text-anchor="end" fill="#2a2627">100</text>
<line x1="328.00" y1="400.50" x2="328.00" y2="403.70" stroke="#1c1a1b" stroke-width="1.05" />
<text x="328.00" y="411.70" font-size="6.3" text-anchor="middle" fill="#2a2627">4</text>
<line x1="338.13" y1="400.50" x2="338.13" y2="403.70" stroke="#1c1a1b" stroke-width="1.05" />
<text x="338.13" y="411.70" font-size="6.3" text-anchor="middle" fill="#2a2627">8</text>
<line x1="348.27" y1="400.50" x2="348.27" y2="403.70" stroke="#1c1a1b" stroke-width="1.05" />
<text x="348.27" y="411.70" font-size="6.3" text-anchor="middle" fill="#2a2627">12</text>
<line x1="358.40" y1="400.50" x2="358.40" y2="403.70" stroke="#1c1a1b" stroke-width="1.05" />
<text x="358.40" y="411.70" font-size="6.3" text-anchor="middle" fill="#2a2627">16</text>
<path d="M328.00,362.83V366.32M326.60,362.83H329.40M326.60,366.32H329.40M338.13,360.79V367.78M336.73,360.79H339.53M336.73,367.78H339.53M348.27,360.79V370.11M346.87,360.79H349.67M346.87,370.11H349.67M358.40,361.31V368.89M357.00,361.31H359.80M357.00,368.89H359.80" fill="none" stroke="#c4122f" stroke-width="0.6" />
<polyline points="328.00,364.58 338.13,364.29 348.27,365.45 358.40,365.10" fill="none" stroke="#c4122f" stroke-width="1" stroke-linejoin="round"/>
<circle cx="328.00" cy="364.58" r="1.15" fill="#c4122f"/>
<circle cx="338.13" cy="364.29" r="1.15" fill="#c4122f"/>
<circle cx="348.27" cy="365.45" r="1.15" fill="#c4122f"/>
<circle cx="358.40" cy="365.10" r="1.15" fill="#c4122f"/>
<path d="M328.00,359.04V363.70M326.60,359.04H329.40M326.60,363.70H329.40M338.13,355.55V360.21M336.73,355.55H339.53M336.73,360.21H339.53M348.27,355.26V360.50M346.87,355.26H349.67M346.87,360.50H349.67M358.40,356.13V360.79M357.00,356.13H359.80M357.00,360.79H359.80" fill="none" stroke="#3aa935" stroke-width="0.6" />
<polyline points="328.00,361.37 338.13,357.88 348.27,357.88 358.40,358.46" fill="none" stroke="#3aa935" stroke-width="1" stroke-linejoin="round"/>
<rect x="326.85" y="360.22" width="2.30" height="2.30" fill="#3aa935" />
<rect x="336.98" y="356.73" width="2.30" height="2.30" fill="#3aa935" />
<rect x="347.12" y="356.73" width="2.30" height="2.30" fill="#3aa935" />
<rect x="357.25" y="357.31" width="2.30" height="2.30" fill="#3aa935" />
<path d="M328.00,358.17V360.50M326.60,358.17H329.40M326.60,360.50H329.40M338.13,355.78V359.28M336.73,355.78H339.53M336.73,359.28H339.53M348.27,355.66V359.16M346.87,355.66H349.67M346.87,359.16H349.67M358.40,356.13V359.62M357.00,356.13H359.80M357.00,359.62H359.80" fill="none" stroke="#1b6a78" stroke-width="0.6" />
<polyline points="328.00,359.33 338.13,357.53 348.27,357.41 358.40,357.88" fill="none" stroke="#1b6a78" stroke-width="1" stroke-linejoin="round"/>
<path d="M328.00,357.95L329.26,360.37L326.74,360.37Z" fill="#1b6a78" />
<path d="M338.13,356.15L339.40,358.56L336.87,358.56Z" fill="#1b6a78" />
<path d="M348.27,356.03L349.53,358.45L347.00,358.45Z" fill="#1b6a78" />
<path d="M358.40,356.50L359.66,358.91L357.13,358.91Z" fill="#1b6a78" />
<text x="386.20" y="338.00" font-size="11" font-weight="bold" fill="#0d0d0d" stroke="#0d0d0d" stroke-width="0.35" textLength="2.60" lengthAdjust="spacingAndGlyphs">I</text>
<rect x="421.30" y="363.12" width="8.80" height="10.10" fill="#cfcdce" />
<rect x="421.30" y="373.22" width="8.80" height="26.95" fill="#c46c1c" />
<path d="M425.70,363.12V362.34M424.20,362.34h3" fill="none" stroke="#bdbbbc" stroke-width="0.6" />
<path d="M425.70,373.22V372.25M424.20,372.25h3" fill="none" stroke="#d99a5a" stroke-width="0.6" />
<rect x="435.80" y="363.90" width="8.80" height="15.92" fill="#cfcdce" />
<rect x="435.80" y="379.82" width="8.80" height="18.64" fill="#c46c1c" />
<rect x="435.80" y="398.46" width="8.80" height="1.94" fill="#8a5a1c" />
<path d="M440.20,363.90V360.01M438.70,360.01h3" fill="none" stroke="#bdbbbc" stroke-width="0.6" />
<path d="M440.20,379.82V376.71M438.70,376.71h3" fill="none" stroke="#d99a5a" stroke-width="0.6" />
<rect x="449.50" y="363.51" width="8.80" height="14.37" fill="#cfcdce" />
<rect x="449.50" y="377.88" width="8.80" height="22.29" fill="#c46c1c" />
<path d="M453.90,363.51V362.73M452.40,362.73h3" fill="none" stroke="#bdbbbc" stroke-width="0.6" />
<path d="M453.90,377.88V376.91M452.40,376.91h3" fill="none" stroke="#d99a5a" stroke-width="0.6" />
<line x1="416.30" y1="351.30" x2="416.30" y2="401.02" stroke="#1c1a1b" stroke-width="1.05" />
<line x1="415.78" y1="400.50" x2="463.20" y2="400.50" stroke="#1c1a1b" stroke-width="1.05" />
<line x1="413.30" y1="400.40" x2="416.30" y2="400.40" stroke="#1c1a1b" stroke-width="1.05" />
<text x="410.30" y="402.67" font-size="6.3" text-anchor="end" fill="#2a2627">0</text>
<line x1="413.30" y1="392.63" x2="416.30" y2="392.63" stroke="#1c1a1b" stroke-width="1.05" />
<text x="410.30" y="394.90" font-size="6.3" text-anchor="end" fill="#2a2627">20</text>
<line x1="413.30" y1="384.87" x2="416.30" y2="384.87" stroke="#1c1a1b" stroke-width="1.05" />
<text x="410.30" y="387.13" font-size="6.3" text-anchor="end" fill="#2a2627">40</text>
<line x1="413.30" y1="377.10" x2="416.30" y2="377.10" stroke="#1c1a1b" stroke-width="1.05" />
<text x="410.30" y="379.37" font-size="6.3" text-anchor="end" fill="#2a2627">60</text>
<line x1="413.30" y1="369.33" x2="416.30" y2="369.33" stroke="#1c1a1b" stroke-width="1.05" />
<text x="410.30" y="371.60" font-size="6.3" text-anchor="end" fill="#2a2627">80</text>
<line x1="413.30" y1="361.57" x2="416.30" y2="361.57" stroke="#1c1a1b" stroke-width="1.05" />
<text x="410.30" y="363.83" font-size="6.3" text-anchor="end" fill="#2a2627">100</text>
<line x1="413.30" y1="353.80" x2="416.30" y2="353.80" stroke="#1c1a1b" stroke-width="1.05" />
<text x="410.30" y="356.07" font-size="6.3" text-anchor="end" fill="#2a2627">120</text>
<line x1="425.70" y1="400.50" x2="425.70" y2="403.70" stroke="#1c1a1b" stroke-width="1.05" />
<line x1="440.20" y1="400.50" x2="440.20" y2="403.70" stroke="#1c1a1b" stroke-width="1.05" />
<line x1="453.90" y1="400.50" x2="453.90" y2="403.70" stroke="#1c1a1b" stroke-width="1.05" />
<rect x="468.80" y="357.50" width="4.40" height="3.00" fill="#c9cbd2" />
<text x="477.00" y="361.40" font-size="6.5" fill="#2a2627" textLength="23.00" lengthAdjust="spacingAndGlyphs">Myeloid</text>
<rect x="468.80" y="365.70" width="4.40" height="3.00" fill="#c46c1c" />
<text x="477.00" y="369.70" font-size="6.5" fill="#2a2627" textLength="18.00" lengthAdjust="spacingAndGlyphs">B cells</text>
<rect x="468.80" y="373.80" width="4.40" height="3.00" fill="#0d5e5a" />
<text x="477.00" y="377.80" font-size="6.5" fill="#2a2627" textLength="18.00" lengthAdjust="spacingAndGlyphs">T cells</text>
<text transform="translate(426.80,411.00) rotate(-45)" font-size="6.3" text-anchor="end" fill="#2a2627" textLength="34.00" lengthAdjust="spacingAndGlyphs">shCtl-young</text>
<text transform="translate(442.00,411.00) rotate(-45)" font-size="6.3" text-anchor="end" fill="#2a2627" textLength="31.00" lengthAdjust="spacingAndGlyphs">shCtl-aged</text>
<text transform="translate(455.80,411.00) rotate(-45)" font-size="6.3" text-anchor="end" fill="#2a2627" textLength="34.00" lengthAdjust="spacingAndGlyphs">shFUS-aged</text>
<text transform="translate(385.00,376.30) rotate(-90)" font-size="8.8" text-anchor="middle" fill="#2a2627" textLength="23.50" lengthAdjust="spacingAndGlyphs">Lineage</text>
<text transform="translate(395.00,375.60) rotate(-90)" font-size="8.8" text-anchor="middle" fill="#2a2627" textLength="46.00" lengthAdjust="spacingAndGlyphs">distribution (%)</text>
<text x="7.40" y="448.80" font-size="11" font-weight="bold" fill="#0d0d0d" stroke="#0d0d0d" stroke-width="0.35" textLength="4.40" lengthAdjust="spacingAndGlyphs">J</text>
<text x="42.00" y="460.60" font-size="6.3" fill="#2a2627" textLength="5.00" lengthAdjust="spacingAndGlyphs">0s</text>
<text x="72.50" y="460.60" font-size="6.3" fill="#2a2627" textLength="18.80" lengthAdjust="spacingAndGlyphs">3.182s</text>
<text x="110.50" y="460.60" font-size="6.3" fill="#2a2627" textLength="19.00" lengthAdjust="spacingAndGlyphs">5.179s</text>
<text x="148.20" y="460.60" font-size="6.3" fill="#2a2627" textLength="18.80" lengthAdjust="spacingAndGlyphs">7.191s</text>
<text x="185.80" y="460.60" font-size="6.3" fill="#2a2627" textLength="18.80" lengthAdjust="spacingAndGlyphs">9.204s</text>
<text x="7.00" y="486.20" font-size="6.5" fill="#2a2627" textLength="17.50" lengthAdjust="spacingAndGlyphs">Young</text>
<text x="8.80" y="524.40" font-size="6.5" fill="#2a2627" textLength="15.70" lengthAdjust="spacingAndGlyphs">Aged</text>
<svg x="28.00" y="465.10" width="35.40" height="35.40" viewBox="0 0 35.40 35.40">
<rect width="35.40" height="35.40" fill="#030503"/>
<g filter="url(#sb)"><circle cx="1.6" cy="3.0" r="7.4" fill="#12612a"/><ellipse cx="31.5" cy="0.5" rx="5.5" ry="3.6" fill="#0a3b1b"/><ellipse cx="-0.3" cy="24.5" rx="3.4" ry="6" fill="#0b3d1c"/></g>
<circle cx="17.6" cy="18.7" r="8.9" fill="url(#gY)" filter="url(#txA)"/>
<circle cx="9.2" cy="18.9" r="2.0" fill="#8a7a35" opacity="0.75" filter="url(#sb)"/>
</svg>
<svg x="28.00" y="503.20" width="35.40" height="35.40" viewBox="0 0 35.40 35.40">
<rect width="35.40" height="35.40" fill="#030503"/>
<circle cx="18.7" cy="20.3" r="10.5" fill="url(#gA)" filter="url(#txA)"/>
<circle cx="16.6" cy="10.8" r="2.2" fill="#9a8035" opacity="0.8" filter="url(#sb)"/>
</svg>
<svg x="65.70" y="465.10" width="35.40" height="35.40" viewBox="0 0 35.40 35.40">
<rect width="35.40" height="35.40" fill="#030503"/>
<g filter="url(#sb)"><circle cx="1.6" cy="3.0" r="7.4" fill="#12612a"/><ellipse cx="31.5" cy="0.5" rx="5.5" ry="3.6" fill="#0a3b1b"/><ellipse cx="-0.3" cy="24.5" rx="3.4" ry="6" fill="#0b3d1c"/></g>
<circle cx="17.6" cy="18.7" r="8.9" fill="url(#gY)" filter="url(#txA)"/>
<circle cx="9.6" cy="18.9" r="2.0" fill="#6a6a2a" opacity="0.35"/>
<circle cx="9.60" cy="18.90" r="2.3" fill="none" stroke="#cf4a30" stroke-width="0.7"/>
</svg>
<svg x="65.70" y="503.20" width="35.40" height="35.40" viewBox="0 0 35.40 35.40">
<rect width="35.40" height="35.40" fill="#030503"/>
<circle cx="18.7" cy="20.3" r="10.5" fill="url(#gA)" filter="url(#txA)"/>
<circle cx="17.50" cy="10.60" r="2.25" fill="#4a0c0e" stroke="#c42a28" stroke-width="0.85"/>
</svg>
<svg x="103.20" y="465.10" width="35.40" height="35.40" viewBox="0 0 35.40 35.40">
<rect width="35.40" height="35.40" fill="#030503"/>
<g filter="url(#sb)"><circle cx="1.6" cy="3.0" r="7.4" fill="#12612a"/><ellipse cx="31.5" cy="0.5" rx="5.5" ry="3.6" fill="#0a3b1b"/><ellipse cx="-0.3" cy="24.5" rx="3.4" ry="6" fill="#0b3d1c"/></g>
<circle cx="17.6" cy="18.7" r="8.9" fill="url(#gY)" filter="url(#txA)"/>
<circle cx="9.6" cy="18.9" r="2.0" fill="#6a6a2a" opacity="0.35"/>
<circle cx="9.60" cy="18.90" r="2.3" fill="none" stroke="#cf4a30" stroke-width="0.7"/>
</svg>
<svg x="103.20" y="503.20" width="35.40" height="35.40" viewBox="0 0 35.40 35.40">
<rect width="35.40" height="35.40" fill="#030503"/>
<circle cx="18.7" cy="20.3" r="10.5" fill="url(#gA)" filter="url(#txA)"/>
<circle cx="17.50" cy="10.60" r="2.25" fill="#4a0c0e" stroke="#c42a28" stroke-width="0.85"/>
</svg>
<svg x="140.70" y="465.10" width="35.40" height="35.40" viewBox="0 0 35.40 35.40">
<rect width="35.40" height="35.40" fill="#030503"/>
<g filter="url(#sb)"><circle cx="1.6" cy="3.0" r="7.4" fill="#12612a"/><ellipse cx="31.5" cy="0.5" rx="5.5" ry="3.6" fill="#0a3b1b"/><ellipse cx="-0.3" cy="24.5" rx="3.4" ry="6" fill="#0b3d1c"/></g>
<circle cx="17.6" cy="18.7" r="8.9" fill="url(#gY)" filter="url(#txA)"/>
<circle cx="9.6" cy="18.9" r="2.0" fill="#6a6a2a" opacity="0.35"/>
<circle cx="9.60" cy="18.90" r="2.3" fill="none" stroke="#cf4a30" stroke-width="0.7"/>
</svg>
<svg x="140.70" y="503.20" width="35.40" height="35.40" viewBox="0 0 35.40 35.40">
<rect width="35.40" height="35.40" fill="#030503"/>
<circle cx="18.7" cy="20.3" r="10.5" fill="url(#gA)" filter="url(#txA)"/>
<circle cx="17.50" cy="10.60" r="2.25" fill="#4a0c0e" stroke="#c42a28" stroke-width="0.85"/>
</svg>
<svg x="178.20" y="465.10" width="35.40" height="35.40" viewBox="0 0 35.40 35.40">
<rect width="35.40" height="35.40" fill="#030503"/>
<g filter="url(#sb)"><circle cx="1.6" cy="3.0" r="7.4" fill="#12612a"/><ellipse cx="31.5" cy="0.5" rx="5.5" ry="3.6" fill="#0a3b1b"/><ellipse cx="-0.3" cy="24.5" rx="3.4" ry="6" fill="#0b3d1c"/></g>
<circle cx="17.6" cy="18.7" r="8.9" fill="url(#gY)" filter="url(#txA)"/>
<circle cx="9.6" cy="18.9" r="2.0" fill="#6a6a2a" opacity="0.35"/>
<circle cx="9.60" cy="18.90" r="2.3" fill="none" stroke="#cf4a30" stroke-width="0.7"/>
</svg>
<svg x="178.20" y="503.20" width="35.40" height="35.40" viewBox="0 0 35.40 35.40">
<rect width="35.40" height="35.40" fill="#030503"/>
<circle cx="18.7" cy="20.3" r="10.5" fill="url(#gA)" filter="url(#txA)"/>
<circle cx="17.50" cy="10.60" r="2.25" fill="#4a0c0e" stroke="#c42a28" stroke-width="0.85"/>
<text x="24.40" y="32.60" font-size="6.6" fill="#ffffff" textLength="10.60" lengthAdjust="spacingAndGlyphs">2µm</text>
<line x1="28.60" y1="34.10" x2="35.00" y2="34.10" stroke="#fff" stroke-width="0.9" />
</svg>
<text x="226.20" y="448.80" font-size="11" font-weight="bold" fill="#0d0d0d" stroke="#0d0d0d" stroke-width="0.35" textLength="7.00" lengthAdjust="spacingAndGlyphs">K</text>
<line x1="283.60" y1="452.20" x2="290.20" y2="452.20" stroke="#3aa935" stroke-width="1" />
<circle cx="286.90" cy="452.20" r="1.15" fill="#3aa935"/>
<text x="292.60" y="454.34" font-size="6.3" fill="#2a2627" textLength="17.20" lengthAdjust="spacingAndGlyphs">Young</text>
<line x1="314.80" y1="452.20" x2="321.40" y2="452.20" stroke="#c4122f" stroke-width="1" />
<circle cx="318.10" cy="452.20" r="1.15" fill="#c4122f"/>
<text x="324.20" y="454.34" font-size="6.3" fill="#2a2627" textLength="15.80" lengthAdjust="spacingAndGlyphs">Aged</text>
<line x1="253.10" y1="462.00" x2="253.10" y2="524.12" stroke="#1c1a1b" stroke-width="1.05" />
<line x1="252.57" y1="523.60" x2="366.20" y2="523.60" stroke="#1c1a1b" stroke-width="1.05" />
<line x1="250.10" y1="523.50" x2="253.10" y2="523.50" stroke="#1c1a1b" stroke-width="1.05" />
<text x="247.10" y="525.77" font-size="6.3" text-anchor="end" fill="#2a2627">0.0</text>
<line x1="250.10" y1="494.00" x2="253.10" y2="494.00" stroke="#1c1a1b" stroke-width="1.05" />
<text x="247.10" y="496.27" font-size="6.3" text-anchor="end" fill="#2a2627">0.5</text>
<line x1="250.10" y1="464.50" x2="253.10" y2="464.50" stroke="#1c1a1b" stroke-width="1.05" />
<text x="247.10" y="466.77" font-size="6.3" text-anchor="end" fill="#2a2627">1.0</text>
<line x1="253.10" y1="523.60" x2="253.10" y2="526.80" stroke="#1c1a1b" stroke-width="1.05" />
<text x="253.10" y="534.60" font-size="6.3" text-anchor="middle" fill="#2a2627">0</text>
<line x1="280.88" y1="523.60" x2="280.88" y2="526.80" stroke="#1c1a1b" stroke-width="1.05" />
<text x="280.88" y="534.60" font-size="6.3" text-anchor="middle" fill="#2a2627">20000</text>
<line x1="308.65" y1="523.60" x2="308.65" y2="526.80" stroke="#1c1a1b" stroke-width="1.05" />
<text x="308.65" y="534.60" font-size="6.3" text-anchor="middle" fill="#2a2627">40000</text>
<line x1="336.43" y1="523.60" x2="336.43" y2="526.80" stroke="#1c1a1b" stroke-width="1.05" />
<text x="336.43" y="534.60" font-size="6.3" text-anchor="middle" fill="#2a2627">60000</text>
<line x1="364.20" y1="523.60" x2="364.20" y2="526.80" stroke="#1c1a1b" stroke-width="1.05" />
<text x="364.20" y="534.60" font-size="6.3" text-anchor="middle" fill="#2a2627">80000</text>
<path d="M257.68,523.50V523.50M256.78,523.50H258.58M256.78,523.50H258.58M260.49,511.55V518.35M259.59,511.55H261.39M259.59,518.35H261.39M263.30,508.48V515.28M262.40,508.48H264.20M262.40,515.28H264.20M266.10,506.94V513.74M265.20,506.94H267.00M265.20,513.74H267.00M268.91,505.70V512.50M268.01,505.70H269.81M268.01,512.50H269.81M271.72,504.47V511.26M270.82,504.47H272.62M270.82,511.26H272.62M274.52,503.82V510.62M273.62,503.82H275.42M273.62,510.62H275.42M277.33,503.46V510.26M276.43,503.46H278.23M276.43,510.26H278.23M280.14,502.81V509.61M279.24,502.81H281.04M279.24,509.61H281.04M282.95,502.99V509.79M282.05,502.99H283.85M282.05,509.79H283.85M285.75,503.17V509.97M284.85,503.17H286.65M284.85,509.97H286.65M288.56,502.99V509.79M287.66,502.99H289.46M287.66,509.79H289.46M291.37,503.29V510.08M290.47,503.29H292.27M290.47,510.08H292.27M294.17,503.58V510.38M293.27,503.58H295.07M293.27,510.38H295.07M296.98,504.05V510.85M296.08,504.05H297.88M296.08,510.85H297.88M299.79,504.47V511.26M298.89,504.47H300.69M298.89,511.26H300.69M302.59,503.58V510.38M301.69,503.58H303.49M301.69,510.38H303.49M305.40,503.17V509.97M304.50,503.17H306.30M304.50,509.97H306.30M308.21,503.17V509.97M307.31,503.17H309.11M307.31,509.97H309.11M311.02,502.99V509.79M310.12,502.99H311.92M310.12,509.79H311.92M313.82,502.99V509.79M312.92,502.99H314.72M312.92,509.79H314.72M316.63,502.81V509.61M315.73,502.81H317.53M315.73,509.61H317.53M319.44,502.64V509.44M318.54,502.64H320.34M318.54,509.44H320.34M322.24,502.87V509.67M321.34,502.87H323.14M321.34,509.67H323.14M325.05,502.64V509.44M324.15,502.64H325.95M324.15,509.44H325.95M327.86,502.40V509.20M326.96,502.40H328.76M326.96,509.20H328.76M330.66,501.69V508.49M329.76,501.69H331.56M329.76,508.49H331.56M333.47,502.28V509.08M332.57,502.28H334.37M332.57,509.08H334.37M336.28,501.46V508.26M335.38,501.46H337.18M335.38,508.26H337.18M339.08,501.10V507.90M338.18,501.10H339.98M338.18,507.90H339.98M341.89,501.69V508.49M340.99,501.69H342.79M340.99,508.49H342.79M344.70,500.87V507.67M343.80,500.87H345.60M343.80,507.67H345.60M347.51,500.51V507.31M346.61,500.51H348.41M346.61,507.31H348.41M350.31,501.46V508.26M349.41,501.46H351.21M349.41,508.26H351.21" fill="none" stroke="#e7a3ad" stroke-width="0.45" />
<polyline points="257.68,523.50 260.49,514.95 263.30,511.88 266.10,510.34 268.91,509.10 271.72,507.87 274.52,507.22 277.33,506.86 280.14,506.21 282.95,506.39 285.75,506.57 288.56,506.39 291.37,506.69 294.17,506.98 296.98,507.45 299.79,507.87 302.59,506.98 305.40,506.57 308.21,506.57 311.02,506.39 313.82,506.39 316.63,506.21 319.44,506.04 322.24,506.27 325.05,506.04 327.86,505.80 330.66,505.09 333.47,505.68 336.28,504.86 339.08,504.50 341.89,505.09 344.70,504.27 347.51,503.91 350.31,504.86" fill="none" stroke="#c4122f" stroke-width="1.1" stroke-linejoin="round"/>
<circle cx="257.68" cy="523.50" r="1.1" fill="#c4122f"/>
<circle cx="260.49" cy="514.95" r="1.1" fill="#c4122f"/>
<circle cx="263.30" cy="511.88" r="1.1" fill="#c4122f"/>
<circle cx="266.10" cy="510.34" r="1.1" fill="#c4122f"/>
<circle cx="268.91" cy="509.10" r="1.1" fill="#c4122f"/>
<circle cx="271.72" cy="507.87" r="1.1" fill="#c4122f"/>
<circle cx="274.52" cy="507.22" r="1.1" fill="#c4122f"/>
<circle cx="277.33" cy="506.86" r="1.1" fill="#c4122f"/>
<circle cx="280.14" cy="506.21" r="1.1" fill="#c4122f"/>
<circle cx="282.95" cy="506.39" r="1.1" fill="#c4122f"/>
<circle cx="285.75" cy="506.57" r="1.1" fill="#c4122f"/>
<circle cx="288.56" cy="506.39" r="1.1" fill="#c4122f"/>
<circle cx="291.37" cy="506.69" r="1.1" fill="#c4122f"/>
<circle cx="294.17" cy="506.98" r="1.1" fill="#c4122f"/>
<circle cx="296.98" cy="507.45" r="1.1" fill="#c4122f"/>
<circle cx="299.79" cy="507.87" r="1.1" fill="#c4122f"/>
<circle cx="302.59" cy="506.98" r="1.1" fill="#c4122f"/>
<circle cx="305.40" cy="506.57" r="1.1" fill="#c4122f"/>
<circle cx="308.21" cy="506.57" r="1.1" fill="#c4122f"/>
<circle cx="311.02" cy="506.39" r="1.1" fill="#c4122f"/>
<circle cx="313.82" cy="506.39" r="1.1" fill="#c4122f"/>
<circle cx="316.63" cy="506.21" r="1.1" fill="#c4122f"/>
<circle cx="319.44" cy="506.04" r="1.1" fill="#c4122f"/>
<circle cx="322.24" cy="506.27" r="1.1" fill="#c4122f"/>
<circle cx="325.05" cy="506.04" r="1.1" fill="#c4122f"/>
<circle cx="327.86" cy="505.80" r="1.1" fill="#c4122f"/>
<circle cx="330.66" cy="505.09" r="1.1" fill="#c4122f"/>
<circle cx="333.47" cy="505.68" r="1.1" fill="#c4122f"/>
<circle cx="336.28" cy="504.86" r="1.1" fill="#c4122f"/>
<circle cx="339.08" cy="504.50" r="1.1" fill="#c4122f"/>
<circle cx="341.89" cy="505.09" r="1.1" fill="#c4122f"/>
<circle cx="344.70" cy="504.27" r="1.1" fill="#c4122f"/>
<circle cx="347.51" cy="503.91" r="1.1" fill="#c4122f"/>
<circle cx="350.31" cy="504.86" r="1.1" fill="#c4122f"/>
<path d="M253.10,464.50V464.50M252.20,464.50H254.00M252.20,464.50H254.00M257.68,523.50V523.50M256.78,523.50H258.58M256.78,523.50H258.58M260.49,500.15V503.55M259.59,500.15H261.39M259.59,503.55H261.39M263.30,492.00V495.40M262.40,492.00H264.20M262.40,495.40H264.20M266.10,486.99V490.39M265.20,486.99H267.00M265.20,490.39H267.00M268.91,483.27V486.67M268.01,483.27H269.81M268.01,486.67H269.81M271.72,481.09V484.49M270.82,481.09H272.62M270.82,484.49H272.62M274.52,479.14V482.54M273.62,479.14H275.42M273.62,482.54H275.42M277.33,478.73V482.13M276.43,478.73H278.23M276.43,482.13H278.23M280.14,476.37V479.77M279.24,476.37H281.04M279.24,479.77H281.04M282.95,476.49V479.89M282.05,476.49H283.85M282.05,479.89H283.85M285.75,476.67V480.06M284.85,476.67H286.65M284.85,480.06H286.65M288.56,476.37V479.77M287.66,476.37H289.46M287.66,479.77H289.46M291.37,476.67V480.06M290.47,476.67H292.27M290.47,480.06H292.27M294.17,477.85V481.25M293.27,477.85H295.07M293.27,481.25H295.07M296.98,477.25V480.65M296.08,477.25H297.88M296.08,480.65H297.88M299.79,476.07V479.47M298.89,476.07H300.69M298.89,479.47H300.69M302.59,475.19V478.59M301.69,475.19H303.49M301.69,478.59H303.49M305.40,475.78V479.18M304.50,475.78H306.30M304.50,479.18H306.30M308.21,476.67V480.06M307.31,476.67H309.11M307.31,480.06H309.11M311.02,475.49V478.88M310.12,475.49H311.92M310.12,478.88H311.92M313.82,476.84V480.24M312.92,476.84H314.72M312.92,480.24H314.72M316.63,477.85V481.25M315.73,477.85H317.53M315.73,481.25H317.53M319.44,477.55V480.95M318.54,477.55H320.34M318.54,480.95H320.34M322.24,477.85V481.25M321.34,477.85H323.14M321.34,481.25H323.14M325.05,476.84V480.24M324.15,476.84H325.95M324.15,480.24H325.95M327.86,475.07V478.47M326.96,475.07H328.76M326.96,478.47H328.76M330.66,476.07V479.47M329.76,476.07H331.56M329.76,479.47H331.56M333.47,476.96V480.36M332.57,476.96H334.37M332.57,480.36H334.37M336.28,476.25V479.65M335.38,476.25H337.18M335.38,479.65H337.18M339.08,476.49V479.89M338.18,476.49H339.98M338.18,479.89H339.98M341.89,476.07V479.47M340.99,476.07H342.79M340.99,479.47H342.79M344.70,476.67V480.06M343.80,476.67H345.60M343.80,480.06H345.60M347.51,475.19V478.59M346.61,475.19H348.41M346.61,478.59H348.41M350.31,476.37V479.77M349.41,476.37H351.21M349.41,479.77H351.21" fill="none" stroke="#3aa935" stroke-width="0.45" />
<polyline points="253.10,464.50 257.68,523.50 260.49,501.85 263.30,493.70 266.10,488.69 268.91,484.97 271.72,482.79 274.52,480.84 277.33,480.43 280.14,478.07 282.95,478.19 285.75,478.37 288.56,478.07 291.37,478.37 294.17,479.55 296.98,478.95 299.79,477.77 302.59,476.89 305.40,477.48 308.21,478.37 311.02,477.19 313.82,478.54 316.63,479.55 319.44,479.25 322.24,479.55 325.05,478.54 327.86,476.77 330.66,477.77 333.47,478.66 336.28,477.95 339.08,478.19 341.89,477.77 344.70,478.37 347.51,476.89 350.31,478.07" fill="none" stroke="#3aa935" stroke-width="0.9" stroke-linejoin="round"/>
<circle cx="253.10" cy="464.50" r="1" fill="#3aa935"/>
<circle cx="257.68" cy="523.50" r="1" fill="#3aa935"/>
<circle cx="260.49" cy="501.85" r="1" fill="#3aa935"/>
<circle cx="263.30" cy="493.70" r="1" fill="#3aa935"/>
<circle cx="266.10" cy="488.69" r="1" fill="#3aa935"/>
<circle cx="268.91" cy="484.97" r="1" fill="#3aa935"/>
<circle cx="271.72" cy="482.79" r="1" fill="#3aa935"/>
<circle cx="274.52" cy="480.84" r="1" fill="#3aa935"/>
<circle cx="277.33" cy="480.43" r="1" fill="#3aa935"/>
<circle cx="280.14" cy="478.07" r="1" fill="#3aa935"/>
<circle cx="282.95" cy="478.19" r="1" fill="#3aa935"/>
<circle cx="285.75" cy="478.37" r="1" fill="#3aa935"/>
<circle cx="288.56" cy="478.07" r="1" fill="#3aa935"/>
<circle cx="291.37" cy="478.37" r="1" fill="#3aa935"/>
<circle cx="294.17" cy="479.55" r="1" fill="#3aa935"/>
<circle cx="296.98" cy="478.95" r="1" fill="#3aa935"/>
<circle cx="299.79" cy="477.77" r="1" fill="#3aa935"/>
<circle cx="302.59" cy="476.89" r="1" fill="#3aa935"/>
<circle cx="305.40" cy="477.48" r="1" fill="#3aa935"/>
<circle cx="308.21" cy="478.37" r="1" fill="#3aa935"/>
<circle cx="311.02" cy="477.19" r="1" fill="#3aa935"/>
<circle cx="313.82" cy="478.54" r="1" fill="#3aa935"/>
<circle cx="316.63" cy="479.55" r="1" fill="#3aa935"/>
<circle cx="319.44" cy="479.25" r="1" fill="#3aa935"/>
<circle cx="322.24" cy="479.55" r="1" fill="#3aa935"/>
<circle cx="325.05" cy="478.54" r="1" fill="#3aa935"/>
<circle cx="327.86" cy="476.77" r="1" fill="#3aa935"/>
<circle cx="330.66" cy="477.77" r="1" fill="#3aa935"/>
<circle cx="333.47" cy="478.66" r="1" fill="#3aa935"/>
<circle cx="336.28" cy="477.95" r="1" fill="#3aa935"/>
<circle cx="339.08" cy="478.19" r="1" fill="#3aa935"/>
<circle cx="341.89" cy="477.77" r="1" fill="#3aa935"/>
<circle cx="344.70" cy="478.37" r="1" fill="#3aa935"/>
<circle cx="347.51" cy="476.89" r="1" fill="#3aa935"/>
<circle cx="350.31" cy="478.07" r="1" fill="#3aa935"/>
<text transform="translate(233.20,492.00) rotate(-90)" font-size="8.8" text-anchor="middle" fill="#2a2627" textLength="62.00" lengthAdjust="spacingAndGlyphs">Recovery rate (Cyto)</text>
<text x="297.50" y="546.20" font-size="8.8" fill="#2a2627" textLength="26.80" lengthAdjust="spacingAndGlyphs">Time/ms</text>
<text x="385.50" y="448.80" font-size="11" font-weight="bold" fill="#0d0d0d" stroke="#0d0d0d" stroke-width="0.35" textLength="5.00" lengthAdjust="spacingAndGlyphs">L</text>
<path d="M422.40,470.49V467.15M419.94,467.15h4.93" fill="none" stroke="#3aa935" stroke-width="0.7" />
<rect x="418.00" y="470.49" width="8.80" height="52.81" fill="#3aa935" />
<path d="M436.90,502.47V496.90M434.44,496.90h4.93" fill="none" stroke="#c4122f" stroke-width="0.7" />
<rect x="432.50" y="502.47" width="8.80" height="20.82" fill="#c4122f" />
<line x1="413.70" y1="461.30" x2="413.70" y2="523.92" stroke="#1c1a1b" stroke-width="1.05" />
<line x1="413.18" y1="523.40" x2="447.60" y2="523.40" stroke="#1c1a1b" stroke-width="1.05" />
<line x1="410.70" y1="523.30" x2="413.70" y2="523.30" stroke="#1c1a1b" stroke-width="1.05" />
<text x="409.10" y="525.78" font-size="6.9" text-anchor="end" fill="#2a2627">0.0</text>
<line x1="410.70" y1="508.42" x2="413.70" y2="508.42" stroke="#1c1a1b" stroke-width="1.05" />
<text x="409.10" y="510.91" font-size="6.9" text-anchor="end" fill="#2a2627">0.2</text>
<line x1="410.70" y1="493.55" x2="413.70" y2="493.55" stroke="#1c1a1b" stroke-width="1.05" />
<text x="409.10" y="496.03" font-size="6.9" text-anchor="end" fill="#2a2627">0.4</text>
<line x1="410.70" y1="478.68" x2="413.70" y2="478.68" stroke="#1c1a1b" stroke-width="1.05" />
<text x="409.10" y="481.16" font-size="6.9" text-anchor="end" fill="#2a2627">0.6</text>
<line x1="410.70" y1="463.80" x2="413.70" y2="463.80" stroke="#1c1a1b" stroke-width="1.05" />
<text x="409.10" y="466.28" font-size="6.9" text-anchor="end" fill="#2a2627">0.8</text>
<line x1="422.40" y1="523.40" x2="422.40" y2="526.60" stroke="#1c1a1b" stroke-width="1.05" />
<line x1="436.90" y1="523.40" x2="436.90" y2="526.60" stroke="#1c1a1b" stroke-width="1.05" />
<path d="M422.2,463.9V460.5H437V495.6" fill="none" stroke="#1c1a1b" stroke-width="0.95" />
<text x="429.50" y="460.70" font-size="7.2" text-anchor="middle" fill="#000" textLength="11.55" lengthAdjust="spacingAndGlyphs">****</text>
<text transform="translate(425.40,533.00) rotate(-45)" font-size="6.9" text-anchor="end" fill="#2a2627" textLength="19.00" lengthAdjust="spacingAndGlyphs">Young</text>
<text transform="translate(440.60,533.00) rotate(-45)" font-size="6.9" text-anchor="end" fill="#2a2627" textLength="16.00" lengthAdjust="spacingAndGlyphs">Aged</text>
<text transform="translate(392.00,492.00) rotate(-90)" font-size="8.8" text-anchor="middle" fill="#2a2627" textLength="65.00" lengthAdjust="spacingAndGlyphs">Mobile fraction (Cyto)</text>
<path d="M488.10,520.77V518.69M485.64,518.69h4.93" fill="none" stroke="#3aa935" stroke-width="0.7" />
<rect x="483.70" y="520.77" width="8.80" height="2.53" fill="#3aa935" />
<path d="M503.10,483.88V467.15M500.64,467.15h4.93" fill="none" stroke="#c4122f" stroke-width="0.7" />
<rect x="498.70" y="483.88" width="8.80" height="39.42" fill="#c4122f" />
<line x1="478.70" y1="461.30" x2="478.70" y2="523.92" stroke="#1c1a1b" stroke-width="1.05" />
<line x1="478.18" y1="523.40" x2="513.20" y2="523.40" stroke="#1c1a1b" stroke-width="1.05" />
<line x1="475.70" y1="523.30" x2="478.70" y2="523.30" stroke="#1c1a1b" stroke-width="1.05" />
<text x="474.30" y="525.78" font-size="6.9" text-anchor="end" fill="#2a2627">0</text>
<line x1="475.70" y1="508.42" x2="478.70" y2="508.42" stroke="#1c1a1b" stroke-width="1.05" />
<text x="474.30" y="510.91" font-size="6.9" text-anchor="end" fill="#2a2627">20</text>
<line x1="475.70" y1="493.55" x2="478.70" y2="493.55" stroke="#1c1a1b" stroke-width="1.05" />
<text x="474.30" y="496.03" font-size="6.9" text-anchor="end" fill="#2a2627">40</text>
<line x1="475.70" y1="478.68" x2="478.70" y2="478.68" stroke="#1c1a1b" stroke-width="1.05" />
<text x="474.30" y="481.16" font-size="6.9" text-anchor="end" fill="#2a2627">60</text>
<line x1="475.70" y1="463.80" x2="478.70" y2="463.80" stroke="#1c1a1b" stroke-width="1.05" />
<text x="474.30" y="466.28" font-size="6.9" text-anchor="end" fill="#2a2627">80</text>
<line x1="488.10" y1="523.40" x2="488.10" y2="526.60" stroke="#1c1a1b" stroke-width="1.05" />
<line x1="503.10" y1="523.40" x2="503.10" y2="526.60" stroke="#1c1a1b" stroke-width="1.05" />
<path d="M488.1,517.6V460.1H503.1V465.2" fill="none" stroke="#1c1a1b" stroke-width="0.95" />
<text x="496.30" y="460.50" font-size="7.2" text-anchor="middle" fill="#000" textLength="2.86" lengthAdjust="spacingAndGlyphs">*</text>
<text transform="translate(491.20,533.00) rotate(-45)" font-size="6.9" text-anchor="end" fill="#2a2627" textLength="19.00" lengthAdjust="spacingAndGlyphs">Young</text>
<text transform="translate(506.60,533.00) rotate(-45)" font-size="6.9" text-anchor="end" fill="#2a2627" textLength="16.00" lengthAdjust="spacingAndGlyphs">Aged</text>
<text transform="translate(460.60,493.00) rotate(-90)" font-size="8.8" text-anchor="middle" fill="#2a2627" textLength="41.50" lengthAdjust="spacingAndGlyphs">T-half(s) (Cyto)</text>
<text x="7.30" y="564.40" font-size="11" font-weight="bold" fill="#0d0d0d" stroke="#0d0d0d" stroke-width="0.35" textLength="10.00" lengthAdjust="spacingAndGlyphs">M</text>
<text x="38.00" y="567.00" font-size="6.3" fill="#2a2627" textLength="19.00" lengthAdjust="spacingAndGlyphs">0.127s</text>
<text x="76.20" y="567.00" font-size="6.3" fill="#2a2627" textLength="18.80" lengthAdjust="spacingAndGlyphs">3.065s</text>
<text x="113.80" y="567.00" font-size="6.3" fill="#2a2627" textLength="18.80" lengthAdjust="spacingAndGlyphs">4.989s</text>
<text x="151.30" y="567.00" font-size="6.3" fill="#2a2627" textLength="18.80" lengthAdjust="spacingAndGlyphs">8.838s</text>
<text x="188.20" y="567.00" font-size="6.3" fill="#2a2627" textLength="22.30" lengthAdjust="spacingAndGlyphs">12.700s</text>
<text x="27.00" y="589.60" font-size="6.5" text-anchor="end" fill="#2a2627" textLength="17.00" lengthAdjust="spacingAndGlyphs">shCtl-</text>
<text x="27.00" y="597.40" font-size="6.5" text-anchor="end" fill="#2a2627" textLength="17.50" lengthAdjust="spacingAndGlyphs">young</text>
<text x="27.00" y="626.20" font-size="6.5" text-anchor="end" fill="#2a2627" textLength="17.00" lengthAdjust="spacingAndGlyphs">shCtl-</text>
<text x="27.00" y="634.80" font-size="6.5" text-anchor="end" fill="#2a2627" textLength="14.00" lengthAdjust="spacingAndGlyphs">aged</text>
<text x="27.00" y="663.00" font-size="6.5" text-anchor="end" fill="#2a2627" textLength="20.00" lengthAdjust="spacingAndGlyphs">shFUS-</text>
<text x="27.00" y="671.80" font-size="6.5" text-anchor="end" fill="#2a2627" textLength="14.00" lengthAdjust="spacingAndGlyphs">aged</text>
<svg x="30.00" y="571.60" width="35.40" height="35.00" viewBox="0 0 35.40 35.00">
<rect width="35.40" height="35.00" fill="#030503"/>
<g filter="url(#sb)"><circle cx="1" cy="2.5" r="3.4" fill="#0f4a24"/><ellipse cx="36" cy="15.5" rx="1.8" ry="3.2" fill="#2aa050"/></g>
<ellipse cx="24" cy="-0.6" rx="11.5" ry="5.6" fill="url(#gM1)" filter="url(#txB)"/>
<ellipse cx="17.6" cy="21.8" rx="17.1" ry="13.7" fill="url(#gM1)" filter="url(#txB)"/>
<circle cx="6.8" cy="11.6" r="1.3" fill="#8a5a35" opacity="0.6" filter="url(#sb)"/>
<circle cx="6.80" cy="11.60" r="1.9" fill="none" stroke="#b8402f" stroke-width="0.45"/>
</svg>
<svg x="30.00" y="609.10" width="35.40" height="35.00" viewBox="0 0 35.40 35.00">
<rect width="35.40" height="35.00" fill="#030503"/>
<g filter="url(#txC)" opacity="1"><ellipse cx="18.0" cy="17.0" rx="15.1" ry="15.3" fill="url(#gM2)"/>
<ellipse cx="17" cy="8" rx="2.4" ry="2.2" fill="#0a3a1a"/>
<ellipse cx="19.3" cy="14.5" rx="2.2" ry="4" fill="#0a3a1a"/>
<ellipse cx="9.5" cy="11.5" rx="1.7" ry="1.4" fill="#0a3a1a"/>
<ellipse cx="16.5" cy="25.5" rx="1.9" ry="1.5" fill="#0a3a1a"/>
<ellipse cx="24.5" cy="20" rx="1.5" ry="1.8" fill="#0a3a1a"/>
<ellipse cx="12" cy="20.5" rx="1.4" ry="1.2" fill="#0a3a1a"/>
<ellipse cx="25" cy="10" rx="1.3" ry="1.1" fill="#0a3a1a"/>
</g>
<circle cx="20.4" cy="30.6" r="1.3" fill="#a8753a" opacity="0.7" filter="url(#sb)"/>
</svg>
<svg x="30.00" y="646.40" width="35.40" height="35.00" viewBox="0 0 35.40 35.00">
<rect width="35.40" height="35.00" fill="#030503"/>
<ellipse cx="17.8" cy="17.4" rx="17.0" ry="16.4" fill="url(#gM3)" filter="url(#txD)"/>
<circle cx="17.0" cy="32.8" r="1.6" fill="#80a858" opacity="0.75" filter="url(#sb)"/>
</svg>
<svg x="67.80" y="571.60" width="35.40" height="35.00" viewBox="0 0 35.40 35.00">
<rect width="35.40" height="35.00" fill="#030503"/>
<g filter="url(#sb)"><circle cx="1" cy="2.5" r="3.4" fill="#0f4a24"/><ellipse cx="36" cy="15.5" rx="1.8" ry="3.2" fill="#2aa050"/></g>
<ellipse cx="24" cy="-0.6" rx="11.5" ry="5.6" fill="url(#gM1)" filter="url(#txB)"/>
<ellipse cx="17.6" cy="21.8" rx="17.1" ry="13.7" fill="url(#gM1)" filter="url(#txB)"/>
<circle cx="6.8" cy="11.6" r="1.3" fill="#8a5a35" opacity="0.6" filter="url(#sb)"/>
<circle cx="6.80" cy="11.60" r="1.9" fill="none" stroke="#b8402f" stroke-width="0.45"/>
</svg>
<svg x="67.80" y="609.10" width="35.40" height="35.00" viewBox="0 0 35.40 35.00">
<rect width="35.40" height="35.00" fill="#030503"/>
<g filter="url(#txC)" opacity="0.9"><ellipse cx="18.0" cy="17.0" rx="14.85" ry="15.05" fill="url(#gM2)"/>
<ellipse cx="17" cy="8" rx="2.544" ry="2.332" fill="#0a3a1a"/>
<ellipse cx="19.3" cy="14.5" rx="2.332" ry="4.24" fill="#0a3a1a"/>
<ellipse cx="9.5" cy="11.5" rx="1.802" ry="1.484" fill="#0a3a1a"/>
<ellipse cx="16.5" cy="25.5" rx="2.014" ry="1.59" fill="#0a3a1a"/>
<ellipse cx="24.5" cy="20" rx="1.59" ry="1.908" fill="#0a3a1a"/>
<ellipse cx="12" cy="20.5" rx="1.484" ry="1.272" fill="#0a3a1a"/>
<ellipse cx="25" cy="10" rx="1.378" ry="1.166" fill="#0a3a1a"/>
</g>
<circle cx="20.4" cy="30.6" r="1.3" fill="#a8753a" opacity="0.7" filter="url(#sb)"/>
<circle cx="20.40" cy="30.60" r="1.9" fill="none" stroke="#c8402f" stroke-width="0.5"/>
</svg>
<svg x="67.80" y="646.40" width="35.40" height="35.00" viewBox="0 0 35.40 35.00">
<rect width="35.40" height="35.00" fill="#030503"/>
<ellipse cx="17.8" cy="17.4" rx="17.0" ry="16.4" fill="url(#gM3)" filter="url(#txD)"/>
<circle cx="17.0" cy="32.8" r="1.6" fill="#80a858" opacity="0.75" filter="url(#sb)"/>
<circle cx="17.00" cy="32.80" r="2" fill="none" stroke="#b8402f" stroke-width="0.45"/>
</svg>
<svg x="105.60" y="571.60" width="35.40" height="35.00" viewBox="0 0 35.40 35.00">
<rect width="35.40" height="35.00" fill="#030503"/>
<g filter="url(#sb)"><circle cx="1" cy="2.5" r="3.4" fill="#0f4a24"/><ellipse cx="36" cy="15.5" rx="1.8" ry="3.2" fill="#2aa050"/></g>
<ellipse cx="24" cy="-0.6" rx="11.5" ry="5.6" fill="url(#gM1)" filter="url(#txB)"/>
<ellipse cx="17.6" cy="21.8" rx="17.1" ry="13.7" fill="url(#gM1)" filter="url(#txB)"/>
<circle cx="6.8" cy="11.6" r="1.3" fill="#8a5a35" opacity="0.6" filter="url(#sb)"/>
<circle cx="6.80" cy="11.60" r="1.9" fill="none" stroke="#b8402f" stroke-width="0.45"/>
</svg>
<svg x="105.60" y="609.10" width="35.40" height="35.00" viewBox="0 0 35.40 35.00">
<rect width="35.40" height="35.00" fill="#030503"/>
<g filter="url(#txC)" opacity="0.88"><ellipse cx="18.0" cy="17.0" rx="14.6" ry="14.8" fill="url(#gM2)"/>
<ellipse cx="17" cy="8" rx="2.688" ry="2.464" fill="#0a3a1a"/>
<ellipse cx="19.3" cy="14.5" rx="2.464" ry="4.48" fill="#0a3a1a"/>
<ellipse cx="9.5" cy="11.5" rx="1.904" ry="1.568" fill="#0a3a1a"/>
<ellipse cx="16.5" cy="25.5" rx="2.128" ry="1.68" fill="#0a3a1a"/>
<ellipse cx="24.5" cy="20" rx="1.68" ry="2.016" fill="#0a3a1a"/>
<ellipse cx="12" cy="20.5" rx="1.568" ry="1.344" fill="#0a3a1a"/>
<ellipse cx="25" cy="10" rx="1.456" ry="1.232" fill="#0a3a1a"/>
</g>
<circle cx="20.4" cy="30.6" r="1.3" fill="#a8753a" opacity="0.7" filter="url(#sb)"/>
<circle cx="20.40" cy="30.60" r="1.9" fill="none" stroke="#c8402f" stroke-width="0.5"/>
</svg>
<svg x="105.60" y="646.40" width="35.40" height="35.00" viewBox="0 0 35.40 35.00">
<rect width="35.40" height="35.00" fill="#030503"/>
<ellipse cx="17.8" cy="17.4" rx="17.0" ry="16.4" fill="url(#gM3)" filter="url(#txD)"/>
<circle cx="17.0" cy="32.8" r="1.6" fill="#80a858" opacity="0.75" filter="url(#sb)"/>
<circle cx="17.00" cy="32.80" r="2" fill="none" stroke="#b8402f" stroke-width="0.45"/>
</svg>
<svg x="143.20" y="571.60" width="35.40" height="35.00" viewBox="0 0 35.40 35.00">
<rect width="35.40" height="35.00" fill="#030503"/>
<g filter="url(#sb)"><circle cx="1" cy="2.5" r="3.4" fill="#0f4a24"/><ellipse cx="36" cy="15.5" rx="1.8" ry="3.2" fill="#2aa050"/></g>
<ellipse cx="24" cy="-0.6" rx="11.5" ry="5.6" fill="url(#gM1)" filter="url(#txB)"/>
<ellipse cx="17.6" cy="21.8" rx="17.1" ry="13.7" fill="url(#gM1)" filter="url(#txB)"/>
<circle cx="6.8" cy="11.6" r="1.3" fill="#8a5a35" opacity="0.6" filter="url(#sb)"/>
<circle cx="6.80" cy="11.60" r="1.9" fill="none" stroke="#b8402f" stroke-width="0.45"/>
</svg>
<svg x="143.20" y="609.10" width="35.40" height="35.00" viewBox="0 0 35.40 35.00">
<rect width="35.40" height="35.00" fill="#030503"/>
<g filter="url(#txC)" opacity="0.84"><ellipse cx="18.0" cy="17.0" rx="14.35" ry="14.55" fill="url(#gM2)"/>
<ellipse cx="17" cy="8" rx="2.832" ry="2.596" fill="#0a3a1a"/>
<ellipse cx="19.3" cy="14.5" rx="2.596" ry="4.72" fill="#0a3a1a"/>
<ellipse cx="9.5" cy="11.5" rx="2.006" ry="1.652" fill="#0a3a1a"/>
<ellipse cx="16.5" cy="25.5" rx="2.242" ry="1.77" fill="#0a3a1a"/>
<ellipse cx="24.5" cy="20" rx="1.77" ry="2.124" fill="#0a3a1a"/>
<ellipse cx="12" cy="20.5" rx="1.652" ry="1.416" fill="#0a3a1a"/>
<ellipse cx="25" cy="10" rx="1.534" ry="1.298" fill="#0a3a1a"/>
</g>
<circle cx="20.4" cy="30.6" r="1.3" fill="#a8753a" opacity="0.7" filter="url(#sb)"/>
<circle cx="20.40" cy="30.60" r="1.9" fill="none" stroke="#c8402f" stroke-width="0.5"/>
</svg>
<svg x="143.20" y="646.40" width="35.40" height="35.00" viewBox="0 0 35.40 35.00">
<rect width="35.40" height="35.00" fill="#030503"/>
<ellipse cx="17.8" cy="17.4" rx="17.0" ry="16.4" fill="url(#gM3)" filter="url(#txD)"/>
<circle cx="17.0" cy="32.8" r="1.6" fill="#80a858" opacity="0.75" filter="url(#sb)"/>
<circle cx="17.00" cy="32.80" r="2" fill="none" stroke="#b8402f" stroke-width="0.45"/>
</svg>
<svg x="180.90" y="571.60" width="35.40" height="35.00" viewBox="0 0 35.40 35.00">
<rect width="35.40" height="35.00" fill="#030503"/>
<g filter="url(#sb)"><circle cx="1" cy="2.5" r="3.4" fill="#0f4a24"/><ellipse cx="36" cy="15.5" rx="1.8" ry="3.2" fill="#2aa050"/></g>
<ellipse cx="24" cy="-0.6" rx="11.5" ry="5.6" fill="url(#gM1)" filter="url(#txB)"/>
<ellipse cx="17.6" cy="21.8" rx="17.1" ry="13.7" fill="url(#gM1)" filter="url(#txB)"/>
<circle cx="6.8" cy="11.6" r="1.3" fill="#8a5a35" opacity="0.6" filter="url(#sb)"/>
<circle cx="6.80" cy="11.60" r="1.9" fill="none" stroke="#b8402f" stroke-width="0.45"/>
</svg>
<svg x="180.90" y="609.10" width="35.40" height="35.00" viewBox="0 0 35.40 35.00">
<rect width="35.40" height="35.00" fill="#030503"/>
<g filter="url(#txC)" opacity="0.78"><ellipse cx="18.0" cy="17.0" rx="14.1" ry="14.3" fill="url(#gM2)"/>
<ellipse cx="17" cy="8" rx="2.976" ry="2.728" fill="#0a3a1a"/>
<ellipse cx="19.3" cy="14.5" rx="2.728" ry="4.96" fill="#0a3a1a"/>
<ellipse cx="9.5" cy="11.5" rx="2.108" ry="1.736" fill="#0a3a1a"/>
<ellipse cx="16.5" cy="25.5" rx="2.356" ry="1.86" fill="#0a3a1a"/>
<ellipse cx="24.5" cy="20" rx="1.86" ry="2.232" fill="#0a3a1a"/>
<ellipse cx="12" cy="20.5" rx="1.736" ry="1.488" fill="#0a3a1a"/>
<ellipse cx="25" cy="10" rx="1.612" ry="1.364" fill="#0a3a1a"/>
</g>
<circle cx="20.4" cy="30.6" r="1.3" fill="#a8753a" opacity="0.7" filter="url(#sb)"/>
<circle cx="20.40" cy="30.60" r="1.9" fill="none" stroke="#c8402f" stroke-width="0.5"/>
</svg>
<svg x="180.90" y="646.40" width="35.40" height="35.00" viewBox="0 0 35.40 35.00">
<rect width="35.40" height="35.00" fill="#030503"/>
<ellipse cx="17.8" cy="17.4" rx="17.0" ry="16.4" fill="url(#gM3)" filter="url(#txD)"/>
<circle cx="17.0" cy="32.8" r="1.6" fill="#80a858" opacity="0.75" filter="url(#sb)"/>
<circle cx="17.00" cy="32.80" r="2" fill="none" stroke="#b8402f" stroke-width="0.45"/>
<text x="24.00" y="32.40" font-size="6.6" fill="#ffffff" textLength="11.20" lengthAdjust="spacingAndGlyphs">2µm</text>
<line x1="28.40" y1="33.90" x2="35.20" y2="33.90" stroke="#fff" stroke-width="0.9" />
</svg>
<text x="230.50" y="564.40" font-size="11" font-weight="bold" fill="#0d0d0d" stroke="#0d0d0d" stroke-width="0.35" textLength="7.60" lengthAdjust="spacingAndGlyphs">N</text>
<line x1="262.40" y1="567.20" x2="269.00" y2="567.20" stroke="#1f4e8c" stroke-width="1" />
<path d="M265.70,565.80l1.3,2.3h-2.6Z" fill="#1f4e8c" />
<text x="271.40" y="569.34" font-size="6.3" fill="#2a2627" textLength="34.20" lengthAdjust="spacingAndGlyphs">shFUS-aged</text>
<line x1="314.80" y1="567.20" x2="321.40" y2="567.20" stroke="#3aa935" stroke-width="1" />
<circle cx="318.10" cy="567.20" r="1.15" fill="#3aa935"/>
<text x="324.20" y="569.34" font-size="6.3" fill="#2a2627" textLength="35.00" lengthAdjust="spacingAndGlyphs">shCtl-young</text>
<line x1="262.40" y1="575.20" x2="269.00" y2="575.20" stroke="#c4122f" stroke-width="1" />
<rect x="264.55" y="574.05" width="2.30" height="2.30" fill="#c4122f" />
<text x="271.40" y="577.34" font-size="6.3" fill="#2a2627" textLength="31.60" lengthAdjust="spacingAndGlyphs">shCtl-aged</text>
<line x1="256.90" y1="585.00" x2="256.90" y2="648.02" stroke="#1c1a1b" stroke-width="1.05" />
<line x1="256.38" y1="647.50" x2="370.80" y2="647.50" stroke="#1c1a1b" stroke-width="1.05" />
<line x1="253.90" y1="647.40" x2="256.90" y2="647.40" stroke="#1c1a1b" stroke-width="1.05" />
<text x="250.90" y="649.78" font-size="6.6" text-anchor="end" fill="#2a2627">0.0</text>
<line x1="253.90" y1="627.40" x2="256.90" y2="627.40" stroke="#1c1a1b" stroke-width="1.05" />
<text x="250.90" y="629.78" font-size="6.6" text-anchor="end" fill="#2a2627">0.5</text>
<line x1="253.90" y1="607.40" x2="256.90" y2="607.40" stroke="#1c1a1b" stroke-width="1.05" />
<text x="250.90" y="609.78" font-size="6.6" text-anchor="end" fill="#2a2627">1.0</text>
<line x1="253.90" y1="587.40" x2="256.90" y2="587.40" stroke="#1c1a1b" stroke-width="1.05" />
<text x="250.90" y="589.78" font-size="6.6" text-anchor="end" fill="#2a2627">1.5</text>
<line x1="256.90" y1="647.50" x2="256.90" y2="650.70" stroke="#1c1a1b" stroke-width="1.05" />
<text x="256.90" y="658.50" font-size="6.6" text-anchor="middle" fill="#2a2627">0</text>
<line x1="288.37" y1="647.50" x2="288.37" y2="650.70" stroke="#1c1a1b" stroke-width="1.05" />
<text x="288.37" y="658.50" font-size="6.6" text-anchor="middle" fill="#2a2627">20000</text>
<line x1="319.83" y1="647.50" x2="319.83" y2="650.70" stroke="#1c1a1b" stroke-width="1.05" />
<text x="319.83" y="658.50" font-size="6.6" text-anchor="middle" fill="#2a2627">40000</text>
<line x1="351.30" y1="647.50" x2="351.30" y2="650.70" stroke="#1c1a1b" stroke-width="1.05" />
<text x="351.30" y="658.50" font-size="6.6" text-anchor="middle" fill="#2a2627">60000</text>
<path d="M260.05,647.5v1.7M263.19,647.5v1.7M266.34,647.5v1.7M269.49,647.5v1.7M272.63,647.5v1.7M275.78,647.5v1.7M278.93,647.5v1.7M282.07,647.5v1.7M285.22,647.5v1.7M291.51,647.5v1.7M294.66,647.5v1.7M297.81,647.5v1.7M300.95,647.5v1.7M304.10,647.5v1.7M307.25,647.5v1.7M310.39,647.5v1.7M313.54,647.5v1.7M316.69,647.5v1.7M322.98,647.5v1.7M326.13,647.5v1.7M329.27,647.5v1.7M332.42,647.5v1.7M335.57,647.5v1.7M338.71,647.5v1.7M341.86,647.5v1.7M345.01,647.5v1.7M348.15,647.5v1.7M354.45,647.5v1.7M357.59,647.5v1.7M360.74,647.5v1.7M363.89,647.5v1.7M367.03,647.5v1.7" fill="none" stroke="#1c1a1b" stroke-width="0.6" />
<path d="M264.92,628.70V639.70M264.02,628.70H265.82M264.02,639.70H265.82M268.07,629.12V640.88M267.17,629.12H268.97M267.17,640.88H268.97M271.22,628.83V633.97M270.32,628.83H272.12M270.32,633.97H272.12M274.36,623.35V634.65M273.46,623.35H275.26M273.46,634.65H275.26M277.51,626.24V634.16M276.61,626.24H278.41M276.61,634.16H278.41M280.66,625.39V635.01M279.76,625.39H281.56M279.76,635.01H281.56M283.80,630.06V635.14M282.90,630.06H284.70M282.90,635.14H284.70M286.95,626.71V632.09M286.05,626.71H287.85M286.05,632.09H287.85M290.10,622.98V629.42M289.20,622.98H291.00M289.20,629.42H291.00M293.24,622.68V635.32M292.34,622.68H294.14M292.34,635.32H294.14M296.39,624.91V631.49M295.49,624.91H297.29M295.49,631.49H297.29M299.54,623.08V634.12M298.64,623.08H300.44M298.64,634.12H300.44M302.68,621.18V633.62M301.78,621.18H303.58M301.78,633.62H303.58M305.83,619.53V632.07M304.93,619.53H306.73M304.93,632.07H306.73M308.98,615.92V623.68M308.08,615.92H309.88M308.08,623.68H309.88M312.12,625.08V632.92M311.22,625.08H313.02M311.22,632.92H313.02M315.27,620.00V629.20M314.37,620.00H316.17M314.37,629.20H316.17M318.42,618.60V629.80M317.52,618.60H319.32M317.52,629.80H319.32M321.56,620.47V626.33M320.66,620.47H322.46M320.66,626.33H322.46M324.71,623.91V634.89M323.81,623.91H325.61M323.81,634.89H325.61M327.86,612.11V623.49M326.96,612.11H328.76M326.96,623.49H328.76M331.00,624.66V636.54M330.10,624.66H331.90M330.10,636.54H331.90M334.15,624.75V630.05M333.25,624.75H335.05M333.25,630.05H335.05M337.30,619.92V632.48M336.40,619.92H338.20M336.40,632.48H338.20M340.44,618.14V623.86M339.54,618.14H341.34M339.54,623.86H341.34M343.59,621.54V629.26M342.69,621.54H344.49M342.69,629.26H344.49M346.74,629.26V639.14M345.84,629.26H347.64M345.84,639.14H347.64M349.88,626.83V639.17M348.98,626.83H350.78M348.98,639.17H350.78M353.03,628.34V636.06M352.13,628.34H353.93M352.13,636.06H353.93M353.66,629.20V641.60M352.76,629.20H354.56M352.76,641.60H354.56" fill="none" stroke="#e9aab3" stroke-width="0.45" />
<polyline points="264.92,634.20 268.07,635.00 271.22,631.40 274.36,629.00 277.51,630.20 280.66,630.20 283.80,632.60 286.95,629.40 290.10,626.20 293.24,629.00 296.39,628.20 299.54,628.60 302.68,627.40 305.83,625.80 308.98,619.80 312.12,629.00 315.27,624.60 318.42,624.20 321.56,623.40 324.71,629.40 327.86,617.80 331.00,630.60 334.15,627.40 337.30,626.20 340.44,621.00 343.59,625.40 346.74,634.20 349.88,633.00 353.03,632.20 353.66,635.40" fill="none" stroke="#c4122f" stroke-width="1.1" stroke-linejoin="round"/>
<rect x="263.87" y="633.15" width="2.10" height="2.10" fill="#c4122f" />
<rect x="267.02" y="633.95" width="2.10" height="2.10" fill="#c4122f" />
<rect x="270.17" y="630.35" width="2.10" height="2.10" fill="#c4122f" />
<rect x="273.31" y="627.95" width="2.10" height="2.10" fill="#c4122f" />
<rect x="276.46" y="629.15" width="2.10" height="2.10" fill="#c4122f" />
<rect x="279.61" y="629.15" width="2.10" height="2.10" fill="#c4122f" />
<rect x="282.75" y="631.55" width="2.10" height="2.10" fill="#c4122f" />
<rect x="285.90" y="628.35" width="2.10" height="2.10" fill="#c4122f" />
<rect x="289.05" y="625.15" width="2.10" height="2.10" fill="#c4122f" />
<rect x="292.19" y="627.95" width="2.10" height="2.10" fill="#c4122f" />
<rect x="295.34" y="627.15" width="2.10" height="2.10" fill="#c4122f" />
<rect x="298.49" y="627.55" width="2.10" height="2.10" fill="#c4122f" />
<rect x="301.63" y="626.35" width="2.10" height="2.10" fill="#c4122f" />
<rect x="304.78" y="624.75" width="2.10" height="2.10" fill="#c4122f" />
<rect x="307.93" y="618.75" width="2.10" height="2.10" fill="#c4122f" />
<rect x="311.07" y="627.95" width="2.10" height="2.10" fill="#c4122f" />
<rect x="314.22" y="623.55" width="2.10" height="2.10" fill="#c4122f" />
<rect x="317.37" y="623.15" width="2.10" height="2.10" fill="#c4122f" />
<rect x="320.51" y="622.35" width="2.10" height="2.10" fill="#c4122f" />
<rect x="323.66" y="628.35" width="2.10" height="2.10" fill="#c4122f" />
<rect x="326.81" y="616.75" width="2.10" height="2.10" fill="#c4122f" />
<rect x="329.95" y="629.55" width="2.10" height="2.10" fill="#c4122f" />
<rect x="333.10" y="626.35" width="2.10" height="2.10" fill="#c4122f" />
<rect x="336.25" y="625.15" width="2.10" height="2.10" fill="#c4122f" />
<rect x="339.39" y="619.95" width="2.10" height="2.10" fill="#c4122f" />
<rect x="342.54" y="624.35" width="2.10" height="2.10" fill="#c4122f" />
<rect x="345.69" y="633.15" width="2.10" height="2.10" fill="#c4122f" />
<rect x="348.83" y="631.95" width="2.10" height="2.10" fill="#c4122f" />
<rect x="351.98" y="631.15" width="2.10" height="2.10" fill="#c4122f" />
<rect x="352.61" y="634.35" width="2.10" height="2.10" fill="#c4122f" />
<path d="M256.90,607.40V607.40M256.00,607.40H257.80M256.00,607.40H257.80M261.78,647.40V647.40M260.88,647.40H262.68M260.88,647.40H262.68M264.92,623.67V637.53M264.02,623.67H265.82M264.02,637.53H265.82M268.07,612.11V625.09M267.17,612.11H268.97M267.17,625.09H268.97M271.22,610.04V618.36M270.32,610.04H272.12M270.32,618.36H272.12M274.36,603.35V617.05M273.46,603.35H275.26M273.46,617.05H275.26M277.51,604.24V614.56M276.61,604.24H278.41M276.61,614.56H278.41M280.66,600.49V611.91M279.76,600.49H281.56M279.76,611.91H281.56M283.80,599.58V607.22M282.90,599.58H284.70M282.90,607.22H284.70M286.95,601.44V614.96M286.05,601.44H287.85M286.05,614.96H287.85M290.10,602.84V614.36M289.20,602.84H291.00M289.20,614.36H291.00M293.24,598.53V612.27M292.34,598.53H294.14M292.34,612.27H294.14M296.39,600.83V613.97M295.49,600.83H297.29M295.49,613.97H297.29M299.54,601.20V609.60M298.64,601.20H300.44M298.64,609.60H300.44M302.68,600.56V609.44M301.78,600.56H303.58M301.78,609.44H303.58M305.83,602.54V609.86M304.93,602.54H306.73M304.93,609.86H306.73M308.98,602.62V609.78M308.08,602.62H309.88M308.08,609.78H309.88M312.12,601.74V608.26M311.22,601.74H313.02M311.22,608.26H313.02M315.27,599.99V608.41M314.37,599.99H316.17M314.37,608.41H316.17M318.42,601.99V612.81M317.52,601.99H319.32M317.52,612.81H319.32M321.56,607.59V613.61M320.66,607.59H322.46M320.66,613.61H322.46M324.71,602.89V614.31M323.81,602.89H325.61M323.81,614.31H325.61M327.86,603.85V612.55M326.96,603.85H328.76M326.96,612.55H328.76M331.00,605.16V613.64M330.10,605.16H331.90M330.10,613.64H331.90M334.15,605.13V617.67M333.25,605.13H335.05M333.25,617.67H335.05M337.30,601.68V611.52M336.40,601.68H338.20M336.40,611.52H338.20M340.44,608.34V616.86M339.54,608.34H341.34M339.54,616.86H341.34M343.59,602.48V612.32M342.69,602.48H344.49M342.69,612.32H344.49M346.74,602.78V614.42M345.84,602.78H347.64M345.84,614.42H347.64M349.88,605.37V611.83M348.98,605.37H350.78M348.98,611.83H350.78M353.03,602.50V616.30M352.13,602.50H353.93M352.13,616.30H353.93M353.66,606.31V612.49M352.76,606.31H354.56M352.76,612.49H354.56" fill="none" stroke="#a9d9a4" stroke-width="0.45" />
<polyline points="256.90,607.40 261.78,647.40 264.92,630.60 268.07,618.60 271.22,614.20 274.36,610.20 277.51,609.40 280.66,606.20 283.80,603.40 286.95,608.20 290.10,608.60 293.24,605.40 296.39,607.40 299.54,605.40 302.68,605.00 305.83,606.20 308.98,606.20 312.12,605.00 315.27,604.20 318.42,607.40 321.56,610.60 324.71,608.60 327.86,608.20 331.00,609.40 334.15,611.40 337.30,606.60 340.44,612.60 343.59,607.40 346.74,608.60 349.88,608.60 353.03,609.40 353.66,609.40" fill="none" stroke="#3aa935" stroke-width="1" stroke-linejoin="round"/>
<circle cx="256.90" cy="607.40" r="1" fill="#3aa935"/>
<circle cx="261.78" cy="647.40" r="1" fill="#3aa935"/>
<circle cx="264.92" cy="630.60" r="1" fill="#3aa935"/>
<circle cx="268.07" cy="618.60" r="1" fill="#3aa935"/>
<circle cx="271.22" cy="614.20" r="1" fill="#3aa935"/>
<circle cx="274.36" cy="610.20" r="1" fill="#3aa935"/>
<circle cx="277.51" cy="609.40" r="1" fill="#3aa935"/>
<circle cx="280.66" cy="606.20" r="1" fill="#3aa935"/>
<circle cx="283.80" cy="603.40" r="1" fill="#3aa935"/>
<circle cx="286.95" cy="608.20" r="1" fill="#3aa935"/>
<circle cx="290.10" cy="608.60" r="1" fill="#3aa935"/>
<circle cx="293.24" cy="605.40" r="1" fill="#3aa935"/>
<circle cx="296.39" cy="607.40" r="1" fill="#3aa935"/>
<circle cx="299.54" cy="605.40" r="1" fill="#3aa935"/>
<circle cx="302.68" cy="605.00" r="1" fill="#3aa935"/>
<circle cx="305.83" cy="606.20" r="1" fill="#3aa935"/>
<circle cx="308.98" cy="606.20" r="1" fill="#3aa935"/>
<circle cx="312.12" cy="605.00" r="1" fill="#3aa935"/>
<circle cx="315.27" cy="604.20" r="1" fill="#3aa935"/>
<circle cx="318.42" cy="607.40" r="1" fill="#3aa935"/>
<circle cx="321.56" cy="610.60" r="1" fill="#3aa935"/>
<circle cx="324.71" cy="608.60" r="1" fill="#3aa935"/>
<circle cx="327.86" cy="608.20" r="1" fill="#3aa935"/>
<circle cx="331.00" cy="609.40" r="1" fill="#3aa935"/>
<circle cx="334.15" cy="611.40" r="1" fill="#3aa935"/>
<circle cx="337.30" cy="606.60" r="1" fill="#3aa935"/>
<circle cx="340.44" cy="612.60" r="1" fill="#3aa935"/>
<circle cx="343.59" cy="607.40" r="1" fill="#3aa935"/>
<circle cx="346.74" cy="608.60" r="1" fill="#3aa935"/>
<circle cx="349.88" cy="608.60" r="1" fill="#3aa935"/>
<circle cx="353.03" cy="609.40" r="1" fill="#3aa935"/>
<circle cx="353.66" cy="609.40" r="1" fill="#3aa935"/>
<path d="M261.78,647.40V647.40M260.88,647.40H262.68M260.88,647.40H262.68M264.92,624.49V636.71M264.02,624.49H265.82M264.02,636.71H265.82M268.07,612.69V626.11M267.17,612.69H268.97M267.17,626.11H268.97M271.22,607.62V621.58M270.32,607.62H272.12M270.32,621.58H272.12M274.36,599.69V615.11M273.46,599.69H275.26M273.46,615.11H275.26M277.51,606.30V619.70M276.61,606.30H278.41M276.61,619.70H278.41M280.66,605.39V620.61M279.76,605.39H281.56M279.76,620.61H281.56M283.80,599.45V605.75M282.90,599.45H284.70M282.90,605.75H284.70M286.95,598.07V608.73M286.05,598.07H287.85M286.05,608.73H287.85M290.10,598.88V614.32M289.20,598.88H291.00M289.20,614.32H291.00M293.24,597.16V609.64M292.34,597.16H294.14M292.34,609.64H294.14M296.39,598.70V613.70M295.49,598.70H297.29M295.49,613.70H297.29M299.54,598.63V605.77M298.64,598.63H300.44M298.64,605.77H300.44M302.68,598.85V609.55M301.78,598.85H303.58M301.78,609.55H303.58M305.83,599.97V608.43M304.93,599.97H306.73M304.93,608.43H306.73M308.98,600.48V611.92M308.08,600.48H309.88M308.08,611.92H309.88M312.12,595.93V607.67M311.22,595.93H313.02M311.22,607.67H313.02M315.27,597.53V603.67M314.37,597.53H316.17M314.37,603.67H316.17M318.42,601.32V609.48M317.52,601.32H319.32M317.52,609.48H319.32M321.56,603.80V612.60M320.66,603.80H322.46M320.66,612.60H322.46M324.71,595.82V610.98M323.81,595.82H325.61M323.81,610.98H325.61M327.86,592.57V606.23M326.96,592.57H328.76M326.96,606.23H328.76M331.00,599.60V607.20M330.10,599.60H331.90M330.10,607.20H331.90M334.15,600.41V614.39M333.25,600.41H335.05M333.25,614.39H335.05M337.30,601.31V608.69M336.40,601.31H338.20M336.40,608.69H338.20M340.44,599.31V611.49M339.54,599.31H341.34M339.54,611.49H341.34M343.59,600.57V607.83M342.69,600.57H344.49M342.69,607.83H344.49M346.74,600.39V606.41M345.84,600.39H347.64M345.84,606.41H347.64M349.88,594.04V608.76M348.98,594.04H350.78M348.98,608.76H350.78M353.03,593.35V601.45M352.13,593.35H353.93M352.13,601.45H353.93M353.66,595.32V603.48M352.76,595.32H354.56M352.76,603.48H354.56" fill="none" stroke="#9db4d6" stroke-width="0.45" />
<polyline points="261.78,647.40 264.92,630.60 268.07,619.40 271.22,614.60 274.36,607.40 277.51,613.00 280.66,613.00 283.80,602.60 286.95,603.40 290.10,606.60 293.24,603.40 296.39,606.20 299.54,602.20 302.68,604.20 305.83,604.20 308.98,606.20 312.12,601.80 315.27,600.60 318.42,605.40 321.56,608.20 324.71,603.40 327.86,599.40 331.00,603.40 334.15,607.40 337.30,605.00 340.44,605.40 343.59,604.20 346.74,603.40 349.88,601.40 353.03,597.40 353.66,599.40" fill="none" stroke="#1f4e8c" stroke-width="1" stroke-linejoin="round"/>
<path d="M261.78,646.08L262.99,648.39L260.57,648.39Z" fill="#1f4e8c" />
<path d="M264.92,629.28L266.13,631.59L263.71,631.59Z" fill="#1f4e8c" />
<path d="M268.07,618.08L269.28,620.39L266.86,620.39Z" fill="#1f4e8c" />
<path d="M271.22,613.28L272.43,615.59L270.01,615.59Z" fill="#1f4e8c" />
<path d="M274.36,606.08L275.57,608.39L273.15,608.39Z" fill="#1f4e8c" />
<path d="M277.51,611.68L278.72,613.99L276.30,613.99Z" fill="#1f4e8c" />
<path d="M280.66,611.68L281.87,613.99L279.45,613.99Z" fill="#1f4e8c" />
<path d="M283.80,601.28L285.01,603.59L282.59,603.59Z" fill="#1f4e8c" />
<path d="M286.95,602.08L288.16,604.39L285.74,604.39Z" fill="#1f4e8c" />
<path d="M290.10,605.28L291.31,607.59L288.89,607.59Z" fill="#1f4e8c" />
<path d="M293.24,602.08L294.45,604.39L292.03,604.39Z" fill="#1f4e8c" />
<path d="M296.39,604.88L297.60,607.19L295.18,607.19Z" fill="#1f4e8c" />
<path d="M299.54,600.88L300.75,603.19L298.33,603.19Z" fill="#1f4e8c" />
<path d="M302.68,602.88L303.89,605.19L301.47,605.19Z" fill="#1f4e8c" />
<path d="M305.83,602.88L307.04,605.19L304.62,605.19Z" fill="#1f4e8c" />
<path d="M308.98,604.88L310.19,607.19L307.77,607.19Z" fill="#1f4e8c" />
<path d="M312.12,600.48L313.33,602.79L310.91,602.79Z" fill="#1f4e8c" />
<path d="M315.27,599.28L316.48,601.59L314.06,601.59Z" fill="#1f4e8c" />
<path d="M318.42,604.08L319.63,606.39L317.21,606.39Z" fill="#1f4e8c" />
<path d="M321.56,606.88L322.77,609.19L320.35,609.19Z" fill="#1f4e8c" />
<path d="M324.71,602.08L325.92,604.39L323.50,604.39Z" fill="#1f4e8c" />
<path d="M327.86,598.08L329.07,600.39L326.65,600.39Z" fill="#1f4e8c" />
<path d="M331.00,602.08L332.21,604.39L329.79,604.39Z" fill="#1f4e8c" />
<path d="M334.15,606.08L335.36,608.39L332.94,608.39Z" fill="#1f4e8c" />
<path d="M337.30,603.68L338.51,605.99L336.09,605.99Z" fill="#1f4e8c" />
<path d="M340.44,604.08L341.65,606.39L339.23,606.39Z" fill="#1f4e8c" />
<path d="M343.59,602.88L344.80,605.19L342.38,605.19Z" fill="#1f4e8c" />
<path d="M346.74,602.08L347.95,604.39L345.53,604.39Z" fill="#1f4e8c" />
<path d="M349.88,600.08L351.09,602.39L348.67,602.39Z" fill="#1f4e8c" />
<path d="M353.03,596.08L354.24,598.39L351.82,598.39Z" fill="#1f4e8c" />
<path d="M353.66,598.08L354.87,600.39L352.45,600.39Z" fill="#1f4e8c" />
<text transform="translate(237.60,615.50) rotate(-90)" font-size="8.8" text-anchor="middle" fill="#2a2627" textLength="60.50" lengthAdjust="spacingAndGlyphs">Recovery rate (Cyto)</text>
<text x="301.20" y="670.30" font-size="8.8" fill="#2a2627" textLength="25.60" lengthAdjust="spacingAndGlyphs">Time/ms</text>
<text x="384.20" y="564.40" font-size="11" font-weight="bold" fill="#0d0d0d" stroke="#0d0d0d" stroke-width="0.35" textLength="8.40" lengthAdjust="spacingAndGlyphs">O</text>
<path d="M418.20,593.36V591.57M416.41,591.57h3.58" fill="none" stroke="#3aa935" stroke-width="0.7" />
<rect x="415.00" y="593.36" width="6.40" height="53.64" fill="#3aa935" />
<path d="M428.40,611.24V604.39M426.61,604.39h3.58" fill="none" stroke="#c4122f" stroke-width="0.7" />
<rect x="425.20" y="611.24" width="6.40" height="35.76" fill="#c4122f" />
<path d="M438.90,593.06V590.08M437.11,590.08h3.58" fill="none" stroke="#1f4e8c" stroke-width="0.7" />
<rect x="435.70" y="593.06" width="6.40" height="53.94" fill="#1f4e8c" />
<line x1="412.60" y1="585.00" x2="412.60" y2="647.62" stroke="#1c1a1b" stroke-width="1.05" />
<line x1="412.08" y1="647.10" x2="446.30" y2="647.10" stroke="#1c1a1b" stroke-width="1.05" />
<line x1="409.60" y1="647.00" x2="412.60" y2="647.00" stroke="#1c1a1b" stroke-width="1.05" />
<text x="408.00" y="649.48" font-size="6.9" text-anchor="end" fill="#2a2627">0.0</text>
<line x1="409.60" y1="635.08" x2="412.60" y2="635.08" stroke="#1c1a1b" stroke-width="1.05" />
<text x="408.00" y="637.56" font-size="6.9" text-anchor="end" fill="#2a2627">0.2</text>
<line x1="409.60" y1="623.16" x2="412.60" y2="623.16" stroke="#1c1a1b" stroke-width="1.05" />
<text x="408.00" y="625.64" font-size="6.9" text-anchor="end" fill="#2a2627">0.4</text>
<line x1="409.60" y1="611.24" x2="412.60" y2="611.24" stroke="#1c1a1b" stroke-width="1.05" />
<text x="408.00" y="613.72" font-size="6.9" text-anchor="end" fill="#2a2627">0.6</text>
<line x1="409.60" y1="599.32" x2="412.60" y2="599.32" stroke="#1c1a1b" stroke-width="1.05" />
<text x="408.00" y="601.80" font-size="6.9" text-anchor="end" fill="#2a2627">0.8</text>
<line x1="409.60" y1="587.40" x2="412.60" y2="587.40" stroke="#1c1a1b" stroke-width="1.05" />
<text x="408.00" y="589.88" font-size="6.9" text-anchor="end" fill="#2a2627">1.0</text>
<line x1="418.20" y1="647.10" x2="418.20" y2="650.30" stroke="#1c1a1b" stroke-width="1.05" />
<line x1="428.40" y1="647.10" x2="428.40" y2="650.30" stroke="#1c1a1b" stroke-width="1.05" />
<line x1="438.90" y1="647.10" x2="438.90" y2="650.30" stroke="#1c1a1b" stroke-width="1.05" />
<path d="M417.6,590V570.1H428.1V602.5" fill="none" stroke="#1c1a1b" stroke-width="0.95" />
<path d="M428.9,602.5V582.6H439.3V588.8" fill="none" stroke="#1c1a1b" stroke-width="0.95" />
<text x="423.20" y="570.30" font-size="7.2" text-anchor="middle" fill="#000" textLength="5.94" lengthAdjust="spacingAndGlyphs">**</text>
<text x="434.20" y="582.70" font-size="7.2" text-anchor="middle" fill="#000" textLength="5.94" lengthAdjust="spacingAndGlyphs">**</text>
<text transform="translate(420.40,656.40) rotate(-45)" font-size="6.3" text-anchor="end" fill="#2a2627" textLength="34.00" lengthAdjust="spacingAndGlyphs">shCtl-young</text>
<text transform="translate(430.80,656.40) rotate(-45)" font-size="6.3" text-anchor="end" fill="#2a2627" textLength="31.00" lengthAdjust="spacingAndGlyphs">shCtl-aged</text>
<text transform="translate(441.00,656.40) rotate(-45)" font-size="6.3" text-anchor="end" fill="#2a2627" textLength="34.00" lengthAdjust="spacingAndGlyphs">shFUS-aged</text>
<text transform="translate(391.00,616.00) rotate(-90)" font-size="8.8" text-anchor="middle" fill="#2a2627" textLength="62.00" lengthAdjust="spacingAndGlyphs">Mobile fraction(Cyto)</text>
<path d="M484.00,638.06V635.38M482.10,635.38h3.81" fill="none" stroke="#3aa935" stroke-width="0.7" />
<rect x="480.60" y="638.06" width="6.80" height="8.94" fill="#3aa935" />
<path d="M495.60,613.62V598.72M493.81,598.72h3.58" fill="none" stroke="#c4122f" stroke-width="0.7" />
<rect x="492.40" y="613.62" width="6.40" height="33.38" fill="#c4122f" />
<path d="M506.00,641.64V639.25M504.10,639.25h3.81" fill="none" stroke="#1f4e8c" stroke-width="0.7" />
<rect x="502.60" y="641.64" width="6.80" height="5.36" fill="#1f4e8c" />
<line x1="477.50" y1="585.00" x2="477.50" y2="647.62" stroke="#1c1a1b" stroke-width="1.05" />
<line x1="476.98" y1="647.10" x2="512.60" y2="647.10" stroke="#1c1a1b" stroke-width="1.05" />
<line x1="474.50" y1="647.00" x2="477.50" y2="647.00" stroke="#1c1a1b" stroke-width="1.05" />
<text x="473.30" y="649.48" font-size="6.9" text-anchor="end" fill="#2a2627">0</text>
<line x1="474.50" y1="632.10" x2="477.50" y2="632.10" stroke="#1c1a1b" stroke-width="1.05" />
<text x="473.30" y="634.58" font-size="6.9" text-anchor="end" fill="#2a2627">5</text>
<line x1="474.50" y1="617.20" x2="477.50" y2="617.20" stroke="#1c1a1b" stroke-width="1.05" />
<text x="473.30" y="619.68" font-size="6.9" text-anchor="end" fill="#2a2627">10</text>
<line x1="474.50" y1="602.30" x2="477.50" y2="602.30" stroke="#1c1a1b" stroke-width="1.05" />
<text x="473.30" y="604.78" font-size="6.9" text-anchor="end" fill="#2a2627">15</text>
<line x1="474.50" y1="587.40" x2="477.50" y2="587.40" stroke="#1c1a1b" stroke-width="1.05" />
<text x="473.30" y="589.88" font-size="6.9" text-anchor="end" fill="#2a2627">20</text>
<line x1="484.00" y1="647.10" x2="484.00" y2="650.30" stroke="#1c1a1b" stroke-width="1.05" />
<line x1="495.60" y1="647.10" x2="495.60" y2="650.30" stroke="#1c1a1b" stroke-width="1.05" />
<line x1="506.00" y1="647.10" x2="506.00" y2="650.30" stroke="#1c1a1b" stroke-width="1.05" />
<path d="M484.6,633.8V592.1H495.4V597.2" fill="none" stroke="#1c1a1b" stroke-width="0.95" />
<path d="M496.8,597.2V592.1H506.8V637.6" fill="none" stroke="#1c1a1b" stroke-width="0.95" />
<text x="489.40" y="592.70" font-size="7.2" text-anchor="middle" fill="#000" textLength="2.86" lengthAdjust="spacingAndGlyphs">*</text>
<text x="501.80" y="592.70" font-size="7.2" text-anchor="middle" fill="#000" textLength="2.86" lengthAdjust="spacingAndGlyphs">*</text>
<text transform="translate(486.20,656.40) rotate(-45)" font-size="6.3" text-anchor="end" fill="#2a2627" textLength="34.00" lengthAdjust="spacingAndGlyphs">shCtl-young</text>
<text transform="translate(497.60,656.40) rotate(-45)" font-size="6.3" text-anchor="end" fill="#2a2627" textLength="31.00" lengthAdjust="spacingAndGlyphs">shCtl-aged</text>
<text transform="translate(509.00,656.40) rotate(-45)" font-size="6.3" text-anchor="end" fill="#2a2627" textLength="34.00" lengthAdjust="spacingAndGlyphs">shFUS-aged</text>
<text transform="translate(460.60,615.60) rotate(-90)" font-size="8.8" text-anchor="middle" fill="#2a2627" textLength="39.00" lengthAdjust="spacingAndGlyphs">T-half(s)(Cyto)</text>
<rect x="0" y="0" width="520" height="1" fill="#6a6a6a"/><rect x="0" y="0" width="1.05" height="689" fill="#646464"/><rect x="518.9" y="0" width="1.1" height="689" fill="#555"/><rect x="0" y="687.8" width="520" height="1.2" fill="#555"/>
</svg>
</body></html>
